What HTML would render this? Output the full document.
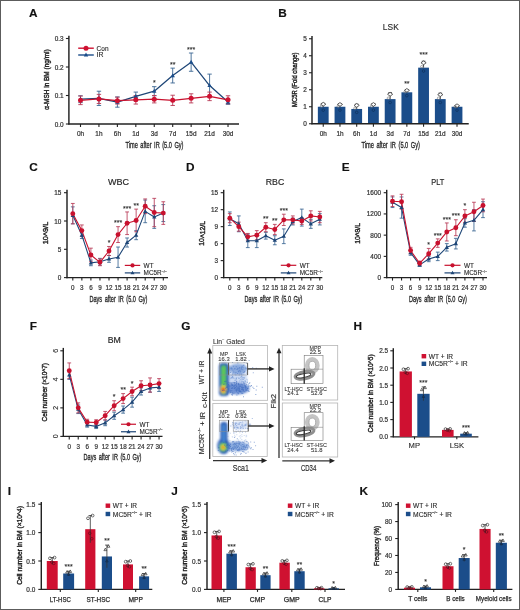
<!DOCTYPE html>
<html><head><meta charset="utf-8"><style>
html,body{margin:0;padding:0;background:#fff;}
.wrap{position:relative;width:520px;height:610px;overflow:hidden;background:#fff;}
svg{position:absolute;left:0;top:0;will-change:transform;}
text{font-family:"Liberation Sans", sans-serif;}
</style></head><body><div class="wrap">
<svg width="520" height="610" viewBox="0 0 520 610">
<defs><filter id="blur1" x="-20%" y="-20%" width="140%" height="140%"><feGaussianBlur stdDeviation="0.9"/></filter><filter id="blur2" x="-20%" y="-20%" width="140%" height="140%"><feGaussianBlur stdDeviation="0.55"/></filter></defs>
<rect x="0" y="0" width="520" height="610" fill="#fff"/>
<text transform="translate(28.90,16.70)" font-size="11.8" text-anchor="start" font-weight="bold" fill="#111" stroke="#111" stroke-width="0.15">A</text>
<line x1="68.90" y1="35.70" x2="68.90" y2="124.60" stroke="#222" stroke-width="1.45"/>
<line x1="65.90" y1="124.00" x2="68.90" y2="124.00" stroke="#222" stroke-width="1.1"/>
<text transform="translate(63.70,126.52) scale(0.92,1)" font-size="7.0" text-anchor="end" font-weight="normal" fill="#333" stroke="#333" stroke-width="0.22">0.0</text>
<line x1="65.90" y1="95.50" x2="68.90" y2="95.50" stroke="#222" stroke-width="1.1"/>
<text transform="translate(63.70,98.02) scale(0.92,1)" font-size="7.0" text-anchor="end" font-weight="normal" fill="#333" stroke="#333" stroke-width="0.22">0.1</text>
<line x1="65.90" y1="67.00" x2="68.90" y2="67.00" stroke="#222" stroke-width="1.1"/>
<text transform="translate(63.70,69.52) scale(0.92,1)" font-size="7.0" text-anchor="end" font-weight="normal" fill="#333" stroke="#333" stroke-width="0.22">0.2</text>
<line x1="65.90" y1="38.50" x2="68.90" y2="38.50" stroke="#222" stroke-width="1.1"/>
<text transform="translate(63.70,41.02) scale(0.92,1)" font-size="7.0" text-anchor="end" font-weight="normal" fill="#333" stroke="#333" stroke-width="0.22">0.3</text>
<line x1="68.30" y1="124.00" x2="239.00" y2="124.00" stroke="#222" stroke-width="1.3"/>
<line x1="80.50" y1="124.00" x2="80.50" y2="127.00" stroke="#222" stroke-width="1.1"/>
<text transform="translate(80.50,136.00) scale(0.92,1)" font-size="7.0" text-anchor="middle" font-weight="normal" fill="#333" stroke="#333" stroke-width="0.22">0h</text>
<line x1="98.94" y1="124.00" x2="98.94" y2="127.00" stroke="#222" stroke-width="1.1"/>
<text transform="translate(98.94,136.00) scale(0.92,1)" font-size="7.0" text-anchor="middle" font-weight="normal" fill="#333" stroke="#333" stroke-width="0.22">1h</text>
<line x1="117.38" y1="124.00" x2="117.38" y2="127.00" stroke="#222" stroke-width="1.1"/>
<text transform="translate(117.38,136.00) scale(0.92,1)" font-size="7.0" text-anchor="middle" font-weight="normal" fill="#333" stroke="#333" stroke-width="0.22">6h</text>
<line x1="135.82" y1="124.00" x2="135.82" y2="127.00" stroke="#222" stroke-width="1.1"/>
<text transform="translate(135.82,136.00) scale(0.92,1)" font-size="7.0" text-anchor="middle" font-weight="normal" fill="#333" stroke="#333" stroke-width="0.22">1d</text>
<line x1="154.26" y1="124.00" x2="154.26" y2="127.00" stroke="#222" stroke-width="1.1"/>
<text transform="translate(154.26,136.00) scale(0.92,1)" font-size="7.0" text-anchor="middle" font-weight="normal" fill="#333" stroke="#333" stroke-width="0.22">3d</text>
<line x1="172.70" y1="124.00" x2="172.70" y2="127.00" stroke="#222" stroke-width="1.1"/>
<text transform="translate(172.70,136.00) scale(0.92,1)" font-size="7.0" text-anchor="middle" font-weight="normal" fill="#333" stroke="#333" stroke-width="0.22">7d</text>
<line x1="191.14" y1="124.00" x2="191.14" y2="127.00" stroke="#222" stroke-width="1.1"/>
<text transform="translate(191.14,136.00) scale(0.92,1)" font-size="7.0" text-anchor="middle" font-weight="normal" fill="#333" stroke="#333" stroke-width="0.22">15d</text>
<line x1="209.58" y1="124.00" x2="209.58" y2="127.00" stroke="#222" stroke-width="1.1"/>
<text transform="translate(209.58,136.00) scale(0.92,1)" font-size="7.0" text-anchor="middle" font-weight="normal" fill="#333" stroke="#333" stroke-width="0.22">21d</text>
<line x1="228.02" y1="124.00" x2="228.02" y2="127.00" stroke="#222" stroke-width="1.1"/>
<text transform="translate(228.02,136.00) scale(0.92,1)" font-size="7.0" text-anchor="middle" font-weight="normal" fill="#333" stroke="#333" stroke-width="0.22">30d</text>
<text transform="translate(46.90,79.60) rotate(-90)" font-size="7.6" text-anchor="middle" font-weight="normal" fill="#262626" textLength="60.4" lengthAdjust="spacingAndGlyphs" dominant-baseline="central" stroke="#262626" stroke-width="0.42">α-MSH in BM (ng/ml)</text>
<text transform="translate(154.50,147.90)" font-size="9.5" text-anchor="middle" font-weight="normal" fill="#2a2a2a" textLength="58" lengthAdjust="spacingAndGlyphs" stroke="#2a2a2a" stroke-width="0.35" word-spacing="1.6">Time after IR (5.0 Gy)</text>
<line x1="80.50" y1="95.78" x2="80.50" y2="102.62" stroke="#3a6592" stroke-width="0.9"/>
<line x1="78.30" y1="95.78" x2="82.70" y2="95.78" stroke="#3a6592" stroke-width="0.9"/>
<line x1="78.30" y1="102.62" x2="82.70" y2="102.62" stroke="#3a6592" stroke-width="0.9"/>
<line x1="98.94" y1="91.22" x2="98.94" y2="105.47" stroke="#3a6592" stroke-width="0.9"/>
<line x1="96.74" y1="91.22" x2="101.14" y2="91.22" stroke="#3a6592" stroke-width="0.9"/>
<line x1="96.74" y1="105.47" x2="101.14" y2="105.47" stroke="#3a6592" stroke-width="0.9"/>
<line x1="117.38" y1="96.92" x2="117.38" y2="107.19" stroke="#3a6592" stroke-width="0.9"/>
<line x1="115.18" y1="96.92" x2="119.58" y2="96.92" stroke="#3a6592" stroke-width="0.9"/>
<line x1="115.18" y1="107.19" x2="119.58" y2="107.19" stroke="#3a6592" stroke-width="0.9"/>
<line x1="135.82" y1="92.08" x2="135.82" y2="100.63" stroke="#3a6592" stroke-width="0.9"/>
<line x1="133.62" y1="92.08" x2="138.02" y2="92.08" stroke="#3a6592" stroke-width="0.9"/>
<line x1="133.62" y1="100.63" x2="138.02" y2="100.63" stroke="#3a6592" stroke-width="0.9"/>
<line x1="154.26" y1="86.66" x2="154.26" y2="95.78" stroke="#3a6592" stroke-width="0.9"/>
<line x1="152.06" y1="86.66" x2="156.46" y2="86.66" stroke="#3a6592" stroke-width="0.9"/>
<line x1="152.06" y1="95.78" x2="156.46" y2="95.78" stroke="#3a6592" stroke-width="0.9"/>
<line x1="172.70" y1="68.14" x2="172.70" y2="82.96" stroke="#3a6592" stroke-width="0.9"/>
<line x1="170.50" y1="68.14" x2="174.90" y2="68.14" stroke="#3a6592" stroke-width="0.9"/>
<line x1="170.50" y1="82.96" x2="174.90" y2="82.96" stroke="#3a6592" stroke-width="0.9"/>
<line x1="191.14" y1="53.03" x2="191.14" y2="71.28" stroke="#3a6592" stroke-width="0.9"/>
<line x1="188.94" y1="53.03" x2="193.34" y2="53.03" stroke="#3a6592" stroke-width="0.9"/>
<line x1="188.94" y1="71.28" x2="193.34" y2="71.28" stroke="#3a6592" stroke-width="0.9"/>
<line x1="209.58" y1="74.12" x2="209.58" y2="96.92" stroke="#3a6592" stroke-width="0.9"/>
<line x1="207.38" y1="74.12" x2="211.78" y2="74.12" stroke="#3a6592" stroke-width="0.9"/>
<line x1="207.38" y1="96.92" x2="211.78" y2="96.92" stroke="#3a6592" stroke-width="0.9"/>
<line x1="228.02" y1="99.78" x2="228.02" y2="104.33" stroke="#3a6592" stroke-width="0.9"/>
<line x1="225.82" y1="99.78" x2="230.22" y2="99.78" stroke="#3a6592" stroke-width="0.9"/>
<line x1="225.82" y1="104.33" x2="230.22" y2="104.33" stroke="#3a6592" stroke-width="0.9"/>
<line x1="80.50" y1="96.07" x2="80.50" y2="104.62" stroke="#b83a56" stroke-width="0.9"/>
<line x1="78.30" y1="96.07" x2="82.70" y2="96.07" stroke="#b83a56" stroke-width="0.9"/>
<line x1="78.30" y1="104.62" x2="82.70" y2="104.62" stroke="#b83a56" stroke-width="0.9"/>
<line x1="98.94" y1="94.36" x2="98.94" y2="103.48" stroke="#b83a56" stroke-width="0.9"/>
<line x1="96.74" y1="94.36" x2="101.14" y2="94.36" stroke="#b83a56" stroke-width="0.9"/>
<line x1="96.74" y1="103.48" x2="101.14" y2="103.48" stroke="#b83a56" stroke-width="0.9"/>
<line x1="117.38" y1="97.21" x2="117.38" y2="104.05" stroke="#b83a56" stroke-width="0.9"/>
<line x1="115.18" y1="97.21" x2="119.58" y2="97.21" stroke="#b83a56" stroke-width="0.9"/>
<line x1="115.18" y1="104.05" x2="119.58" y2="104.05" stroke="#b83a56" stroke-width="0.9"/>
<line x1="135.82" y1="95.50" x2="135.82" y2="104.05" stroke="#b83a56" stroke-width="0.9"/>
<line x1="133.62" y1="95.50" x2="138.02" y2="95.50" stroke="#b83a56" stroke-width="0.9"/>
<line x1="133.62" y1="104.05" x2="138.02" y2="104.05" stroke="#b83a56" stroke-width="0.9"/>
<line x1="154.26" y1="95.50" x2="154.26" y2="102.91" stroke="#b83a56" stroke-width="0.9"/>
<line x1="152.06" y1="95.50" x2="156.46" y2="95.50" stroke="#b83a56" stroke-width="0.9"/>
<line x1="152.06" y1="102.91" x2="156.46" y2="102.91" stroke="#b83a56" stroke-width="0.9"/>
<line x1="172.70" y1="95.22" x2="172.70" y2="105.47" stroke="#b83a56" stroke-width="0.9"/>
<line x1="170.50" y1="95.22" x2="174.90" y2="95.22" stroke="#b83a56" stroke-width="0.9"/>
<line x1="170.50" y1="105.47" x2="174.90" y2="105.47" stroke="#b83a56" stroke-width="0.9"/>
<line x1="191.14" y1="93.79" x2="191.14" y2="102.91" stroke="#b83a56" stroke-width="0.9"/>
<line x1="188.94" y1="93.79" x2="193.34" y2="93.79" stroke="#b83a56" stroke-width="0.9"/>
<line x1="188.94" y1="102.91" x2="193.34" y2="102.91" stroke="#b83a56" stroke-width="0.9"/>
<line x1="209.58" y1="92.08" x2="209.58" y2="100.63" stroke="#b83a56" stroke-width="0.9"/>
<line x1="207.38" y1="92.08" x2="211.78" y2="92.08" stroke="#b83a56" stroke-width="0.9"/>
<line x1="207.38" y1="100.63" x2="211.78" y2="100.63" stroke="#b83a56" stroke-width="0.9"/>
<line x1="228.02" y1="95.78" x2="228.02" y2="103.77" stroke="#b83a56" stroke-width="0.9"/>
<line x1="225.82" y1="95.78" x2="230.22" y2="95.78" stroke="#b83a56" stroke-width="0.9"/>
<line x1="225.82" y1="103.77" x2="230.22" y2="103.77" stroke="#b83a56" stroke-width="0.9"/>
<polyline points="80.50,99.20 98.94,98.35 117.38,102.06 135.82,96.36 154.26,91.22 172.70,75.55 191.14,62.16 209.58,85.53 228.02,102.06" fill="none" stroke="#1e4677" stroke-width="1.25" stroke-linejoin="round"/>
<polyline points="80.50,100.34 98.94,98.92 117.38,100.63 135.82,99.78 154.26,99.20 172.70,100.34 191.14,98.35 209.58,96.36 228.02,99.78" fill="none" stroke="#c8112e" stroke-width="1.25" stroke-linejoin="round"/>
<polygon points="80.50,96.83 78.30,100.79 82.70,100.79" fill="#1b4d8a" stroke="none" stroke-width="0.6"/>
<polygon points="98.94,95.97 96.74,99.93 101.14,99.93" fill="#1b4d8a" stroke="none" stroke-width="0.6"/>
<polygon points="117.38,99.68 115.18,103.64 119.58,103.64" fill="#1b4d8a" stroke="none" stroke-width="0.6"/>
<polygon points="135.82,93.98 133.62,97.94 138.02,97.94" fill="#1b4d8a" stroke="none" stroke-width="0.6"/>
<polygon points="154.26,88.85 152.06,92.81 156.46,92.81" fill="#1b4d8a" stroke="none" stroke-width="0.6"/>
<polygon points="172.70,73.17 170.50,77.13 174.90,77.13" fill="#1b4d8a" stroke="none" stroke-width="0.6"/>
<polygon points="191.14,59.78 188.94,63.74 193.34,63.74" fill="#1b4d8a" stroke="none" stroke-width="0.6"/>
<polygon points="209.58,83.15 207.38,87.11 211.78,87.11" fill="#1b4d8a" stroke="none" stroke-width="0.6"/>
<polygon points="228.02,99.68 225.82,103.64 230.22,103.64" fill="#1b4d8a" stroke="none" stroke-width="0.6"/>
<circle cx="80.50" cy="100.34" r="2.5" fill="#cf1131" stroke="none" stroke-width="0.6"/>
<circle cx="98.94" cy="98.92" r="2.5" fill="#cf1131" stroke="none" stroke-width="0.6"/>
<circle cx="117.38" cy="100.63" r="2.5" fill="#cf1131" stroke="none" stroke-width="0.6"/>
<circle cx="135.82" cy="99.78" r="2.5" fill="#cf1131" stroke="none" stroke-width="0.6"/>
<circle cx="154.26" cy="99.20" r="2.5" fill="#cf1131" stroke="none" stroke-width="0.6"/>
<circle cx="172.70" cy="100.34" r="2.5" fill="#cf1131" stroke="none" stroke-width="0.6"/>
<circle cx="191.14" cy="98.35" r="2.5" fill="#cf1131" stroke="none" stroke-width="0.6"/>
<circle cx="209.58" cy="96.36" r="2.5" fill="#cf1131" stroke="none" stroke-width="0.6"/>
<circle cx="228.02" cy="99.78" r="2.5" fill="#cf1131" stroke="none" stroke-width="0.6"/>
<text transform="translate(154.26,85.46)" font-size="7" text-anchor="middle" font-weight="normal" fill="#2a2a2a" stroke="#2a2a2a" stroke-width="0.1">*</text>
<text transform="translate(172.70,66.94)" font-size="7" text-anchor="middle" font-weight="normal" fill="#2a2a2a" stroke="#2a2a2a" stroke-width="0.1">**</text>
<text transform="translate(191.14,51.83)" font-size="7" text-anchor="middle" font-weight="normal" fill="#2a2a2a" stroke="#2a2a2a" stroke-width="0.1">***</text>
<line x1="78.20" y1="48.20" x2="93.80" y2="48.20" stroke="#cf1131" stroke-width="1.4"/>
<circle cx="86.00" cy="48.20" r="2.5" fill="#cf1131" stroke="none" stroke-width="0.6"/>
<text transform="translate(96.60,50.60)" font-size="6.9" text-anchor="start" font-weight="normal" fill="#2a2a2a" textLength="11.9" lengthAdjust="spacingAndGlyphs" stroke="#2a2a2a" stroke-width="0.12">Con</text>
<line x1="78.20" y1="55.00" x2="93.80" y2="55.00" stroke="#1b4d8a" stroke-width="1.4"/>
<polygon points="86.00,52.62 83.80,56.58 88.20,56.58" fill="#1b4d8a" stroke="none" stroke-width="0.6"/>
<text transform="translate(96.60,57.40)" font-size="6.9" text-anchor="start" font-weight="normal" fill="#2a2a2a" stroke="#2a2a2a" stroke-width="0.12">IR</text>
<text transform="translate(278.30,16.70)" font-size="11.8" text-anchor="start" font-weight="bold" fill="#111" stroke="#111" stroke-width="0.15">B</text>
<text transform="translate(390.80,30.40)" font-size="8.8" text-anchor="middle" font-weight="normal" fill="#2a2a2a" textLength="15.9" lengthAdjust="spacingAndGlyphs" stroke="#2a2a2a" stroke-width="0.12">LSK</text>
<line x1="312.00" y1="35.90" x2="312.00" y2="124.35" stroke="#222" stroke-width="1.45"/>
<line x1="309.00" y1="123.75" x2="312.00" y2="123.75" stroke="#222" stroke-width="1.1"/>
<text transform="translate(306.80,126.27) scale(0.92,1)" font-size="7.0" text-anchor="end" font-weight="normal" fill="#333" stroke="#333" stroke-width="0.22">0</text>
<line x1="309.00" y1="106.75" x2="312.00" y2="106.75" stroke="#222" stroke-width="1.1"/>
<text transform="translate(306.80,109.27) scale(0.92,1)" font-size="7.0" text-anchor="end" font-weight="normal" fill="#333" stroke="#333" stroke-width="0.22">1</text>
<line x1="309.00" y1="89.75" x2="312.00" y2="89.75" stroke="#222" stroke-width="1.1"/>
<text transform="translate(306.80,92.27) scale(0.92,1)" font-size="7.0" text-anchor="end" font-weight="normal" fill="#333" stroke="#333" stroke-width="0.22">2</text>
<line x1="309.00" y1="72.75" x2="312.00" y2="72.75" stroke="#222" stroke-width="1.1"/>
<text transform="translate(306.80,75.27) scale(0.92,1)" font-size="7.0" text-anchor="end" font-weight="normal" fill="#333" stroke="#333" stroke-width="0.22">3</text>
<line x1="309.00" y1="55.75" x2="312.00" y2="55.75" stroke="#222" stroke-width="1.1"/>
<text transform="translate(306.80,58.27) scale(0.92,1)" font-size="7.0" text-anchor="end" font-weight="normal" fill="#333" stroke="#333" stroke-width="0.22">4</text>
<line x1="309.00" y1="38.75" x2="312.00" y2="38.75" stroke="#222" stroke-width="1.1"/>
<text transform="translate(306.80,41.27) scale(0.92,1)" font-size="7.0" text-anchor="end" font-weight="normal" fill="#333" stroke="#333" stroke-width="0.22">5</text>
<rect x="317.85" y="106.75" width="10.80" height="17.00" fill="#1b4d8a" stroke="none" stroke-width="0.6"/>
<line x1="323.25" y1="106.75" x2="323.25" y2="103.35" stroke="#333" stroke-width="0.9"/>
<line x1="321.45" y1="103.35" x2="325.05" y2="103.35" stroke="#333" stroke-width="0.9"/>
<polygon points="320.65,104.20 323.25,102.30 325.85,104.20 323.25,106.10" fill="#fff" stroke="#3a3a3a" stroke-width="0.8"/>
<circle cx="321.45" cy="106.24" r="1.2" fill="none" stroke="#777" stroke-width="0.6"/>
<circle cx="323.25" cy="110.15" r="1.3" fill="none" stroke="#0d2d55" stroke-width="0.6"/>
<rect x="334.57" y="106.75" width="10.80" height="17.00" fill="#1b4d8a" stroke="none" stroke-width="0.6"/>
<line x1="339.97" y1="106.75" x2="339.97" y2="103.69" stroke="#333" stroke-width="0.9"/>
<line x1="338.17" y1="103.69" x2="341.77" y2="103.69" stroke="#333" stroke-width="0.9"/>
<polygon points="337.37,104.45 339.97,102.55 342.57,104.45 339.97,106.36" fill="#fff" stroke="#3a3a3a" stroke-width="0.8"/>
<circle cx="338.17" cy="106.29" r="1.2" fill="none" stroke="#777" stroke-width="0.6"/>
<circle cx="339.97" cy="110.15" r="1.3" fill="none" stroke="#0d2d55" stroke-width="0.6"/>
<rect x="351.29" y="108.96" width="10.80" height="14.79" fill="#1b4d8a" stroke="none" stroke-width="0.6"/>
<line x1="356.69" y1="108.96" x2="356.69" y2="104.20" stroke="#333" stroke-width="0.9"/>
<line x1="354.89" y1="104.20" x2="358.49" y2="104.20" stroke="#333" stroke-width="0.9"/>
<polygon points="354.09,105.39 356.69,103.49 359.29,105.39 356.69,107.29" fill="#fff" stroke="#3a3a3a" stroke-width="0.8"/>
<circle cx="354.89" cy="108.25" r="1.2" fill="none" stroke="#777" stroke-width="0.6"/>
<circle cx="356.69" cy="112.36" r="1.3" fill="none" stroke="#0d2d55" stroke-width="0.6"/>
<rect x="368.01" y="106.75" width="10.80" height="17.00" fill="#1b4d8a" stroke="none" stroke-width="0.6"/>
<line x1="373.41" y1="106.75" x2="373.41" y2="103.69" stroke="#333" stroke-width="0.9"/>
<line x1="371.61" y1="103.69" x2="375.21" y2="103.69" stroke="#333" stroke-width="0.9"/>
<polygon points="370.81,104.45 373.41,102.55 376.01,104.45 373.41,106.36" fill="#fff" stroke="#3a3a3a" stroke-width="0.8"/>
<circle cx="371.61" cy="106.29" r="1.2" fill="none" stroke="#777" stroke-width="0.6"/>
<circle cx="373.41" cy="110.15" r="1.3" fill="none" stroke="#0d2d55" stroke-width="0.6"/>
<rect x="384.73" y="99.10" width="10.80" height="24.65" fill="#1b4d8a" stroke="none" stroke-width="0.6"/>
<line x1="390.13" y1="99.10" x2="390.13" y2="92.64" stroke="#333" stroke-width="0.9"/>
<line x1="388.33" y1="92.64" x2="391.93" y2="92.64" stroke="#333" stroke-width="0.9"/>
<polygon points="387.53,94.25 390.13,92.35 392.73,94.25 390.13,96.16" fill="#fff" stroke="#3a3a3a" stroke-width="0.8"/>
<circle cx="388.33" cy="98.13" r="1.2" fill="none" stroke="#777" stroke-width="0.6"/>
<circle cx="390.13" cy="102.50" r="1.3" fill="none" stroke="#0d2d55" stroke-width="0.6"/>
<rect x="401.45" y="92.30" width="10.80" height="31.45" fill="#1b4d8a" stroke="none" stroke-width="0.6"/>
<line x1="406.85" y1="92.30" x2="406.85" y2="89.75" stroke="#333" stroke-width="0.9"/>
<line x1="405.05" y1="89.75" x2="408.65" y2="89.75" stroke="#333" stroke-width="0.9"/>
<polygon points="404.25,90.39 406.85,88.49 409.45,90.39 406.85,92.29" fill="#fff" stroke="#3a3a3a" stroke-width="0.8"/>
<circle cx="405.05" cy="91.92" r="1.2" fill="none" stroke="#777" stroke-width="0.6"/>
<circle cx="406.85" cy="95.70" r="1.3" fill="none" stroke="#0d2d55" stroke-width="0.6"/>
<rect x="418.17" y="67.65" width="10.80" height="56.10" fill="#1b4d8a" stroke="none" stroke-width="0.6"/>
<line x1="423.57" y1="67.65" x2="423.57" y2="61.19" stroke="#333" stroke-width="0.9"/>
<line x1="421.77" y1="61.19" x2="425.37" y2="61.19" stroke="#333" stroke-width="0.9"/>
<polygon points="420.97,62.80 423.57,60.91 426.17,62.80 423.57,64.70" fill="#fff" stroke="#3a3a3a" stroke-width="0.8"/>
<circle cx="421.77" cy="66.68" r="1.2" fill="none" stroke="#777" stroke-width="0.6"/>
<circle cx="423.57" cy="71.05" r="1.3" fill="none" stroke="#0d2d55" stroke-width="0.6"/>
<rect x="434.89" y="99.10" width="10.80" height="24.65" fill="#1b4d8a" stroke="none" stroke-width="0.6"/>
<line x1="440.29" y1="99.10" x2="440.29" y2="93.15" stroke="#333" stroke-width="0.9"/>
<line x1="438.49" y1="93.15" x2="442.09" y2="93.15" stroke="#333" stroke-width="0.9"/>
<polygon points="437.69,94.64 440.29,92.74 442.89,94.64 440.29,96.54" fill="#fff" stroke="#3a3a3a" stroke-width="0.8"/>
<circle cx="438.49" cy="98.21" r="1.2" fill="none" stroke="#777" stroke-width="0.6"/>
<circle cx="440.29" cy="102.50" r="1.3" fill="none" stroke="#0d2d55" stroke-width="0.6"/>
<rect x="451.61" y="106.75" width="10.80" height="17.00" fill="#1b4d8a" stroke="none" stroke-width="0.6"/>
<line x1="457.01" y1="106.75" x2="457.01" y2="105.39" stroke="#333" stroke-width="0.9"/>
<line x1="455.21" y1="105.39" x2="458.81" y2="105.39" stroke="#333" stroke-width="0.9"/>
<polygon points="454.41,105.73 457.01,103.83 459.61,105.73 457.01,107.63" fill="#fff" stroke="#3a3a3a" stroke-width="0.8"/>
<circle cx="455.21" cy="106.55" r="1.2" fill="none" stroke="#777" stroke-width="0.6"/>
<circle cx="457.01" cy="110.15" r="1.3" fill="none" stroke="#0d2d55" stroke-width="0.6"/>
<line x1="311.40" y1="123.75" x2="468.75" y2="123.75" stroke="#222" stroke-width="1.3"/>
<line x1="323.25" y1="123.75" x2="323.25" y2="126.75" stroke="#222" stroke-width="1.1"/>
<text transform="translate(323.25,135.80) scale(0.92,1)" font-size="7.0" text-anchor="middle" font-weight="normal" fill="#333" stroke="#333" stroke-width="0.22">0h</text>
<line x1="339.97" y1="123.75" x2="339.97" y2="126.75" stroke="#222" stroke-width="1.1"/>
<text transform="translate(339.97,135.80) scale(0.92,1)" font-size="7.0" text-anchor="middle" font-weight="normal" fill="#333" stroke="#333" stroke-width="0.22">1h</text>
<line x1="356.69" y1="123.75" x2="356.69" y2="126.75" stroke="#222" stroke-width="1.1"/>
<text transform="translate(356.69,135.80) scale(0.92,1)" font-size="7.0" text-anchor="middle" font-weight="normal" fill="#333" stroke="#333" stroke-width="0.22">6h</text>
<line x1="373.41" y1="123.75" x2="373.41" y2="126.75" stroke="#222" stroke-width="1.1"/>
<text transform="translate(373.41,135.80) scale(0.92,1)" font-size="7.0" text-anchor="middle" font-weight="normal" fill="#333" stroke="#333" stroke-width="0.22">1d</text>
<line x1="390.13" y1="123.75" x2="390.13" y2="126.75" stroke="#222" stroke-width="1.1"/>
<text transform="translate(390.13,135.80) scale(0.92,1)" font-size="7.0" text-anchor="middle" font-weight="normal" fill="#333" stroke="#333" stroke-width="0.22">3d</text>
<line x1="406.85" y1="123.75" x2="406.85" y2="126.75" stroke="#222" stroke-width="1.1"/>
<text transform="translate(406.85,135.80) scale(0.92,1)" font-size="7.0" text-anchor="middle" font-weight="normal" fill="#333" stroke="#333" stroke-width="0.22">7d</text>
<line x1="423.57" y1="123.75" x2="423.57" y2="126.75" stroke="#222" stroke-width="1.1"/>
<text transform="translate(423.57,135.80) scale(0.92,1)" font-size="7.0" text-anchor="middle" font-weight="normal" fill="#333" stroke="#333" stroke-width="0.22">15d</text>
<line x1="440.29" y1="123.75" x2="440.29" y2="126.75" stroke="#222" stroke-width="1.1"/>
<text transform="translate(440.29,135.80) scale(0.92,1)" font-size="7.0" text-anchor="middle" font-weight="normal" fill="#333" stroke="#333" stroke-width="0.22">21d</text>
<line x1="457.01" y1="123.75" x2="457.01" y2="126.75" stroke="#222" stroke-width="1.1"/>
<text transform="translate(457.01,135.80) scale(0.92,1)" font-size="7.0" text-anchor="middle" font-weight="normal" fill="#333" stroke="#333" stroke-width="0.22">30d</text>
<text transform="translate(406.85,85.75)" font-size="7" text-anchor="middle" font-weight="normal" fill="#2a2a2a" stroke="#2a2a2a" stroke-width="0.1">**</text>
<text transform="translate(423.57,57.19)" font-size="7" text-anchor="middle" font-weight="normal" fill="#2a2a2a" stroke="#2a2a2a" stroke-width="0.1">***</text>
<text transform="translate(294.40,79.70) rotate(-90)" font-size="7.6" text-anchor="middle" font-weight="normal" fill="#262626" textLength="54.4" lengthAdjust="spacingAndGlyphs" dominant-baseline="central" stroke="#262626" stroke-width="0.42">MC5R (Fold change)</text>
<text transform="translate(390.70,147.80)" font-size="9.5" text-anchor="middle" font-weight="normal" fill="#2a2a2a" textLength="58.5" lengthAdjust="spacingAndGlyphs" stroke="#2a2a2a" stroke-width="0.35" word-spacing="1.6">Time after IR (5.0 Gy)</text>
<text transform="translate(29.20,171.00)" font-size="11.8" text-anchor="start" font-weight="bold" fill="#111" stroke="#111" stroke-width="0.15">C</text>
<line x1="67.00" y1="189.80" x2="67.00" y2="278.20" stroke="#222" stroke-width="1.45"/>
<line x1="64.00" y1="277.60" x2="67.00" y2="277.60" stroke="#222" stroke-width="1.1"/>
<text transform="translate(61.40,280.12) scale(0.92,1)" font-size="7.0" text-anchor="end" font-weight="normal" fill="#333" stroke="#333" stroke-width="0.22">0</text>
<line x1="64.00" y1="249.30" x2="67.00" y2="249.30" stroke="#222" stroke-width="1.1"/>
<text transform="translate(61.40,251.82) scale(0.92,1)" font-size="7.0" text-anchor="end" font-weight="normal" fill="#333" stroke="#333" stroke-width="0.22">5</text>
<line x1="64.00" y1="221.00" x2="67.00" y2="221.00" stroke="#222" stroke-width="1.1"/>
<text transform="translate(61.40,223.52) scale(0.92,1)" font-size="7.0" text-anchor="end" font-weight="normal" fill="#333" stroke="#333" stroke-width="0.22">10</text>
<line x1="64.00" y1="192.70" x2="67.00" y2="192.70" stroke="#222" stroke-width="1.1"/>
<text transform="translate(61.40,195.22) scale(0.92,1)" font-size="7.0" text-anchor="end" font-weight="normal" fill="#333" stroke="#333" stroke-width="0.22">15</text>
<line x1="66.40" y1="277.60" x2="168.00" y2="277.60" stroke="#222" stroke-width="1.3"/>
<line x1="72.80" y1="277.60" x2="72.80" y2="280.60" stroke="#222" stroke-width="1.1"/>
<text transform="translate(72.80,289.80) scale(0.9,1)" font-size="7.0" text-anchor="middle" font-weight="normal" fill="#333" stroke="#333" stroke-width="0.22">0</text>
<line x1="81.85" y1="277.60" x2="81.85" y2="280.60" stroke="#222" stroke-width="1.1"/>
<text transform="translate(81.85,289.80) scale(0.9,1)" font-size="7.0" text-anchor="middle" font-weight="normal" fill="#333" stroke="#333" stroke-width="0.22">3</text>
<line x1="90.90" y1="277.60" x2="90.90" y2="280.60" stroke="#222" stroke-width="1.1"/>
<text transform="translate(90.90,289.80) scale(0.9,1)" font-size="7.0" text-anchor="middle" font-weight="normal" fill="#333" stroke="#333" stroke-width="0.22">6</text>
<line x1="99.95" y1="277.60" x2="99.95" y2="280.60" stroke="#222" stroke-width="1.1"/>
<text transform="translate(99.95,289.80) scale(0.9,1)" font-size="7.0" text-anchor="middle" font-weight="normal" fill="#333" stroke="#333" stroke-width="0.22">9</text>
<line x1="109.00" y1="277.60" x2="109.00" y2="280.60" stroke="#222" stroke-width="1.1"/>
<text transform="translate(109.00,289.80) scale(0.9,1)" font-size="7.0" text-anchor="middle" font-weight="normal" fill="#333" stroke="#333" stroke-width="0.22">12</text>
<line x1="118.05" y1="277.60" x2="118.05" y2="280.60" stroke="#222" stroke-width="1.1"/>
<text transform="translate(118.05,289.80) scale(0.9,1)" font-size="7.0" text-anchor="middle" font-weight="normal" fill="#333" stroke="#333" stroke-width="0.22">15</text>
<line x1="127.10" y1="277.60" x2="127.10" y2="280.60" stroke="#222" stroke-width="1.1"/>
<text transform="translate(127.10,289.80) scale(0.9,1)" font-size="7.0" text-anchor="middle" font-weight="normal" fill="#333" stroke="#333" stroke-width="0.22">18</text>
<line x1="136.15" y1="277.60" x2="136.15" y2="280.60" stroke="#222" stroke-width="1.1"/>
<text transform="translate(136.15,289.80) scale(0.9,1)" font-size="7.0" text-anchor="middle" font-weight="normal" fill="#333" stroke="#333" stroke-width="0.22">21</text>
<line x1="145.20" y1="277.60" x2="145.20" y2="280.60" stroke="#222" stroke-width="1.1"/>
<text transform="translate(145.20,289.80) scale(0.9,1)" font-size="7.0" text-anchor="middle" font-weight="normal" fill="#333" stroke="#333" stroke-width="0.22">24</text>
<line x1="154.25" y1="277.60" x2="154.25" y2="280.60" stroke="#222" stroke-width="1.1"/>
<text transform="translate(154.25,289.80) scale(0.9,1)" font-size="7.0" text-anchor="middle" font-weight="normal" fill="#333" stroke="#333" stroke-width="0.22">27</text>
<line x1="163.30" y1="277.60" x2="163.30" y2="280.60" stroke="#222" stroke-width="1.1"/>
<text transform="translate(163.30,289.80) scale(0.9,1)" font-size="7.0" text-anchor="middle" font-weight="normal" fill="#333" stroke="#333" stroke-width="0.22">30</text>
<line x1="72.80" y1="206.85" x2="72.80" y2="223.83" stroke="#3a6592" stroke-width="0.85"/>
<line x1="70.90" y1="206.85" x2="74.70" y2="206.85" stroke="#3a6592" stroke-width="0.85"/>
<line x1="70.90" y1="223.83" x2="74.70" y2="223.83" stroke="#3a6592" stroke-width="0.85"/>
<line x1="81.85" y1="231.75" x2="81.85" y2="238.55" stroke="#3a6592" stroke-width="0.85"/>
<line x1="79.95" y1="231.75" x2="83.75" y2="231.75" stroke="#3a6592" stroke-width="0.85"/>
<line x1="79.95" y1="238.55" x2="83.75" y2="238.55" stroke="#3a6592" stroke-width="0.85"/>
<line x1="90.90" y1="260.05" x2="90.90" y2="265.71" stroke="#3a6592" stroke-width="0.85"/>
<line x1="89.00" y1="260.05" x2="92.80" y2="260.05" stroke="#3a6592" stroke-width="0.85"/>
<line x1="89.00" y1="265.71" x2="92.80" y2="265.71" stroke="#3a6592" stroke-width="0.85"/>
<line x1="99.95" y1="258.36" x2="99.95" y2="265.15" stroke="#3a6592" stroke-width="0.85"/>
<line x1="98.05" y1="258.36" x2="101.85" y2="258.36" stroke="#3a6592" stroke-width="0.85"/>
<line x1="98.05" y1="265.15" x2="101.85" y2="265.15" stroke="#3a6592" stroke-width="0.85"/>
<line x1="109.00" y1="255.53" x2="109.00" y2="262.32" stroke="#3a6592" stroke-width="0.85"/>
<line x1="107.10" y1="255.53" x2="110.90" y2="255.53" stroke="#3a6592" stroke-width="0.85"/>
<line x1="107.10" y1="262.32" x2="110.90" y2="262.32" stroke="#3a6592" stroke-width="0.85"/>
<line x1="118.05" y1="247.04" x2="118.05" y2="267.41" stroke="#3a6592" stroke-width="0.85"/>
<line x1="116.15" y1="247.04" x2="119.95" y2="247.04" stroke="#3a6592" stroke-width="0.85"/>
<line x1="116.15" y1="267.41" x2="119.95" y2="267.41" stroke="#3a6592" stroke-width="0.85"/>
<line x1="127.10" y1="237.98" x2="127.10" y2="247.04" stroke="#3a6592" stroke-width="0.85"/>
<line x1="125.20" y1="237.98" x2="129.00" y2="237.98" stroke="#3a6592" stroke-width="0.85"/>
<line x1="125.20" y1="247.04" x2="129.00" y2="247.04" stroke="#3a6592" stroke-width="0.85"/>
<line x1="136.15" y1="230.62" x2="136.15" y2="239.68" stroke="#3a6592" stroke-width="0.85"/>
<line x1="134.25" y1="230.62" x2="138.05" y2="230.62" stroke="#3a6592" stroke-width="0.85"/>
<line x1="134.25" y1="239.68" x2="138.05" y2="239.68" stroke="#3a6592" stroke-width="0.85"/>
<line x1="145.20" y1="200.06" x2="145.20" y2="222.70" stroke="#3a6592" stroke-width="0.85"/>
<line x1="143.30" y1="200.06" x2="147.10" y2="200.06" stroke="#3a6592" stroke-width="0.85"/>
<line x1="143.30" y1="222.70" x2="147.10" y2="222.70" stroke="#3a6592" stroke-width="0.85"/>
<line x1="154.25" y1="205.72" x2="154.25" y2="228.36" stroke="#3a6592" stroke-width="0.85"/>
<line x1="152.35" y1="205.72" x2="156.15" y2="205.72" stroke="#3a6592" stroke-width="0.85"/>
<line x1="152.35" y1="228.36" x2="156.15" y2="228.36" stroke="#3a6592" stroke-width="0.85"/>
<line x1="163.30" y1="204.59" x2="163.30" y2="221.57" stroke="#3a6592" stroke-width="0.85"/>
<line x1="161.40" y1="204.59" x2="165.20" y2="204.59" stroke="#3a6592" stroke-width="0.85"/>
<line x1="161.40" y1="221.57" x2="165.20" y2="221.57" stroke="#3a6592" stroke-width="0.85"/>
<line x1="72.80" y1="203.45" x2="72.80" y2="223.83" stroke="#b83a56" stroke-width="0.85"/>
<line x1="70.90" y1="203.45" x2="74.70" y2="203.45" stroke="#b83a56" stroke-width="0.85"/>
<line x1="70.90" y1="223.83" x2="74.70" y2="223.83" stroke="#b83a56" stroke-width="0.85"/>
<line x1="81.85" y1="224.96" x2="81.85" y2="236.28" stroke="#b83a56" stroke-width="0.85"/>
<line x1="79.95" y1="224.96" x2="83.75" y2="224.96" stroke="#b83a56" stroke-width="0.85"/>
<line x1="79.95" y1="236.28" x2="83.75" y2="236.28" stroke="#b83a56" stroke-width="0.85"/>
<line x1="90.90" y1="248.17" x2="90.90" y2="261.75" stroke="#b83a56" stroke-width="0.85"/>
<line x1="89.00" y1="248.17" x2="92.80" y2="248.17" stroke="#b83a56" stroke-width="0.85"/>
<line x1="89.00" y1="261.75" x2="92.80" y2="261.75" stroke="#b83a56" stroke-width="0.85"/>
<line x1="99.95" y1="258.92" x2="99.95" y2="265.71" stroke="#b83a56" stroke-width="0.85"/>
<line x1="98.05" y1="258.92" x2="101.85" y2="258.92" stroke="#b83a56" stroke-width="0.85"/>
<line x1="98.05" y1="265.71" x2="101.85" y2="265.71" stroke="#b83a56" stroke-width="0.85"/>
<line x1="109.00" y1="246.47" x2="109.00" y2="255.53" stroke="#b83a56" stroke-width="0.85"/>
<line x1="107.10" y1="246.47" x2="110.90" y2="246.47" stroke="#b83a56" stroke-width="0.85"/>
<line x1="107.10" y1="255.53" x2="110.90" y2="255.53" stroke="#b83a56" stroke-width="0.85"/>
<line x1="118.05" y1="226.66" x2="118.05" y2="242.51" stroke="#b83a56" stroke-width="0.85"/>
<line x1="116.15" y1="226.66" x2="119.95" y2="226.66" stroke="#b83a56" stroke-width="0.85"/>
<line x1="116.15" y1="242.51" x2="119.95" y2="242.51" stroke="#b83a56" stroke-width="0.85"/>
<line x1="127.10" y1="211.94" x2="127.10" y2="234.58" stroke="#b83a56" stroke-width="0.85"/>
<line x1="125.20" y1="211.94" x2="129.00" y2="211.94" stroke="#b83a56" stroke-width="0.85"/>
<line x1="125.20" y1="234.58" x2="129.00" y2="234.58" stroke="#b83a56" stroke-width="0.85"/>
<line x1="136.15" y1="209.11" x2="136.15" y2="231.75" stroke="#b83a56" stroke-width="0.85"/>
<line x1="134.25" y1="209.11" x2="138.05" y2="209.11" stroke="#b83a56" stroke-width="0.85"/>
<line x1="134.25" y1="231.75" x2="138.05" y2="231.75" stroke="#b83a56" stroke-width="0.85"/>
<line x1="145.20" y1="198.93" x2="145.20" y2="213.64" stroke="#b83a56" stroke-width="0.85"/>
<line x1="143.30" y1="198.93" x2="147.10" y2="198.93" stroke="#b83a56" stroke-width="0.85"/>
<line x1="143.30" y1="213.64" x2="147.10" y2="213.64" stroke="#b83a56" stroke-width="0.85"/>
<line x1="154.25" y1="198.36" x2="154.25" y2="226.66" stroke="#b83a56" stroke-width="0.85"/>
<line x1="152.35" y1="198.36" x2="156.15" y2="198.36" stroke="#b83a56" stroke-width="0.85"/>
<line x1="152.35" y1="226.66" x2="156.15" y2="226.66" stroke="#b83a56" stroke-width="0.85"/>
<line x1="163.30" y1="201.76" x2="163.30" y2="224.40" stroke="#b83a56" stroke-width="0.85"/>
<line x1="161.40" y1="201.76" x2="165.20" y2="201.76" stroke="#b83a56" stroke-width="0.85"/>
<line x1="161.40" y1="224.40" x2="165.20" y2="224.40" stroke="#b83a56" stroke-width="0.85"/>
<polyline points="72.80,215.34 81.85,235.15 90.90,262.88 99.95,261.75 109.00,258.92 118.05,257.22 127.10,242.51 136.15,235.15 145.20,211.38 154.25,217.04 163.30,213.08" fill="none" stroke="#1e4677" stroke-width="1.1" stroke-linejoin="round"/>
<polyline points="72.80,213.64 81.85,230.62 90.90,254.96 99.95,262.32 109.00,251.00 118.05,234.58 127.10,223.26 136.15,220.43 145.20,206.28 154.25,212.51 163.30,213.08" fill="none" stroke="#c8112e" stroke-width="1.1" stroke-linejoin="round"/>
<polygon points="72.80,213.02 70.65,216.89 74.95,216.89" fill="#1e4677" stroke="none" stroke-width="0.6"/>
<polygon points="81.85,232.83 79.70,236.70 84.00,236.70" fill="#1e4677" stroke="none" stroke-width="0.6"/>
<polygon points="90.90,260.56 88.75,264.43 93.05,264.43" fill="#1e4677" stroke="none" stroke-width="0.6"/>
<polygon points="99.95,259.43 97.80,263.30 102.10,263.30" fill="#1e4677" stroke="none" stroke-width="0.6"/>
<polygon points="109.00,256.60 106.85,260.47 111.15,260.47" fill="#1e4677" stroke="none" stroke-width="0.6"/>
<polygon points="118.05,254.90 115.90,258.77 120.20,258.77" fill="#1e4677" stroke="none" stroke-width="0.6"/>
<polygon points="127.10,240.19 124.95,244.06 129.25,244.06" fill="#1e4677" stroke="none" stroke-width="0.6"/>
<polygon points="136.15,232.83 134.00,236.70 138.30,236.70" fill="#1e4677" stroke="none" stroke-width="0.6"/>
<polygon points="145.20,209.06 143.05,212.93 147.35,212.93" fill="#1e4677" stroke="none" stroke-width="0.6"/>
<polygon points="154.25,214.72 152.10,218.59 156.40,218.59" fill="#1e4677" stroke="none" stroke-width="0.6"/>
<polygon points="163.30,210.75 161.15,214.62 165.45,214.62" fill="#1e4677" stroke="none" stroke-width="0.6"/>
<circle cx="72.80" cy="213.64" r="2.45" fill="#c8112e" stroke="none" stroke-width="0.6"/>
<circle cx="81.85" cy="230.62" r="2.45" fill="#c8112e" stroke="none" stroke-width="0.6"/>
<circle cx="90.90" cy="254.96" r="2.45" fill="#c8112e" stroke="none" stroke-width="0.6"/>
<circle cx="99.95" cy="262.32" r="2.45" fill="#c8112e" stroke="none" stroke-width="0.6"/>
<circle cx="109.00" cy="251.00" r="2.45" fill="#c8112e" stroke="none" stroke-width="0.6"/>
<circle cx="118.05" cy="234.58" r="2.45" fill="#c8112e" stroke="none" stroke-width="0.6"/>
<circle cx="127.10" cy="223.26" r="2.45" fill="#c8112e" stroke="none" stroke-width="0.6"/>
<circle cx="136.15" cy="220.43" r="2.45" fill="#c8112e" stroke="none" stroke-width="0.6"/>
<circle cx="145.20" cy="206.28" r="2.45" fill="#c8112e" stroke="none" stroke-width="0.6"/>
<circle cx="154.25" cy="212.51" r="2.45" fill="#c8112e" stroke="none" stroke-width="0.6"/>
<circle cx="163.30" cy="213.08" r="2.45" fill="#c8112e" stroke="none" stroke-width="0.6"/>
<text transform="translate(109.00,245.17)" font-size="7" text-anchor="middle" font-weight="normal" fill="#2a2a2a" stroke="#2a2a2a" stroke-width="0.1">*</text>
<text transform="translate(118.05,225.36)" font-size="7" text-anchor="middle" font-weight="normal" fill="#2a2a2a" stroke="#2a2a2a" stroke-width="0.1">***</text>
<text transform="translate(127.10,210.64)" font-size="7" text-anchor="middle" font-weight="normal" fill="#2a2a2a" stroke="#2a2a2a" stroke-width="0.1">***</text>
<text transform="translate(136.15,207.81)" font-size="7" text-anchor="middle" font-weight="normal" fill="#2a2a2a" stroke="#2a2a2a" stroke-width="0.1">**</text>
<line x1="124.80" y1="265.40" x2="140.20" y2="265.40" stroke="#c8112e" stroke-width="1.2"/>
<circle cx="132.50" cy="265.40" r="2.1" fill="#c8112e" stroke="none" stroke-width="0.6"/>
<text transform="translate(143.60,267.70)" font-size="6.4" text-anchor="start" font-weight="normal" fill="#2a2a2a" stroke="#2a2a2a" stroke-width="0.12">WT</text>
<line x1="124.80" y1="272.90" x2="140.20" y2="272.90" stroke="#1e4677" stroke-width="1.2"/>
<polygon points="132.50,270.74 130.50,274.34 134.50,274.34" fill="#1e4677" stroke="none" stroke-width="0.6"/>
<text transform="translate(143.60,275.20)" font-size="6.4" text-anchor="start" font-weight="normal" fill="#2a2a2a" stroke="#2a2a2a" stroke-width="0.12">MC5R<tspan font-size="3.6" dy="-2.6">−/−</tspan></text>
<text transform="translate(118.50,184.90)" font-size="9.2" text-anchor="middle" font-weight="normal" fill="#2a2a2a" textLength="21.1" lengthAdjust="spacingAndGlyphs" stroke="#2a2a2a" stroke-width="0.2">WBC</text>
<text transform="translate(45.00,233.00) rotate(-90)" font-size="8.0" text-anchor="middle" font-weight="normal" fill="#262626" textLength="22.5" lengthAdjust="spacingAndGlyphs" dominant-baseline="central" stroke="#262626" stroke-width="0.42">10<tspan dy="1.0" font-size="9.5">^</tspan><tspan dy="-1.0">9/L</tspan></text>
<text transform="translate(118.40,301.50)" font-size="9.4" text-anchor="middle" font-weight="normal" fill="#2a2a2a" textLength="57.9" lengthAdjust="spacingAndGlyphs" stroke="#2a2a2a" stroke-width="0.35" word-spacing="1.6">Days after IR (5.0 Gy)</text>
<text transform="translate(186.00,171.00)" font-size="11.8" text-anchor="start" font-weight="bold" fill="#111" stroke="#111" stroke-width="0.15">D</text>
<line x1="223.70" y1="189.80" x2="223.70" y2="278.20" stroke="#222" stroke-width="1.45"/>
<line x1="220.70" y1="277.60" x2="223.70" y2="277.60" stroke="#222" stroke-width="1.1"/>
<text transform="translate(218.10,280.12) scale(0.92,1)" font-size="7.0" text-anchor="end" font-weight="normal" fill="#333" stroke="#333" stroke-width="0.22">0</text>
<line x1="220.70" y1="260.62" x2="223.70" y2="260.62" stroke="#222" stroke-width="1.1"/>
<text transform="translate(218.10,263.14) scale(0.92,1)" font-size="7.0" text-anchor="end" font-weight="normal" fill="#333" stroke="#333" stroke-width="0.22">3</text>
<line x1="220.70" y1="243.64" x2="223.70" y2="243.64" stroke="#222" stroke-width="1.1"/>
<text transform="translate(218.10,246.16) scale(0.92,1)" font-size="7.0" text-anchor="end" font-weight="normal" fill="#333" stroke="#333" stroke-width="0.22">6</text>
<line x1="220.70" y1="226.66" x2="223.70" y2="226.66" stroke="#222" stroke-width="1.1"/>
<text transform="translate(218.10,229.18) scale(0.92,1)" font-size="7.0" text-anchor="end" font-weight="normal" fill="#333" stroke="#333" stroke-width="0.22">9</text>
<line x1="220.70" y1="209.68" x2="223.70" y2="209.68" stroke="#222" stroke-width="1.1"/>
<text transform="translate(218.10,212.20) scale(0.92,1)" font-size="7.0" text-anchor="end" font-weight="normal" fill="#333" stroke="#333" stroke-width="0.22">12</text>
<line x1="220.70" y1="192.70" x2="223.70" y2="192.70" stroke="#222" stroke-width="1.1"/>
<text transform="translate(218.10,195.22) scale(0.92,1)" font-size="7.0" text-anchor="end" font-weight="normal" fill="#333" stroke="#333" stroke-width="0.22">15</text>
<line x1="223.10" y1="277.60" x2="322.30" y2="277.60" stroke="#222" stroke-width="1.3"/>
<line x1="229.80" y1="277.60" x2="229.80" y2="280.60" stroke="#222" stroke-width="1.1"/>
<text transform="translate(229.80,289.80) scale(0.9,1)" font-size="7.0" text-anchor="middle" font-weight="normal" fill="#333" stroke="#333" stroke-width="0.22">0</text>
<line x1="238.80" y1="277.60" x2="238.80" y2="280.60" stroke="#222" stroke-width="1.1"/>
<text transform="translate(238.80,289.80) scale(0.9,1)" font-size="7.0" text-anchor="middle" font-weight="normal" fill="#333" stroke="#333" stroke-width="0.22">3</text>
<line x1="247.80" y1="277.60" x2="247.80" y2="280.60" stroke="#222" stroke-width="1.1"/>
<text transform="translate(247.80,289.80) scale(0.9,1)" font-size="7.0" text-anchor="middle" font-weight="normal" fill="#333" stroke="#333" stroke-width="0.22">6</text>
<line x1="256.80" y1="277.60" x2="256.80" y2="280.60" stroke="#222" stroke-width="1.1"/>
<text transform="translate(256.80,289.80) scale(0.9,1)" font-size="7.0" text-anchor="middle" font-weight="normal" fill="#333" stroke="#333" stroke-width="0.22">9</text>
<line x1="265.80" y1="277.60" x2="265.80" y2="280.60" stroke="#222" stroke-width="1.1"/>
<text transform="translate(265.80,289.80) scale(0.9,1)" font-size="7.0" text-anchor="middle" font-weight="normal" fill="#333" stroke="#333" stroke-width="0.22">12</text>
<line x1="274.80" y1="277.60" x2="274.80" y2="280.60" stroke="#222" stroke-width="1.1"/>
<text transform="translate(274.80,289.80) scale(0.9,1)" font-size="7.0" text-anchor="middle" font-weight="normal" fill="#333" stroke="#333" stroke-width="0.22">15</text>
<line x1="283.80" y1="277.60" x2="283.80" y2="280.60" stroke="#222" stroke-width="1.1"/>
<text transform="translate(283.80,289.80) scale(0.9,1)" font-size="7.0" text-anchor="middle" font-weight="normal" fill="#333" stroke="#333" stroke-width="0.22">18</text>
<line x1="292.80" y1="277.60" x2="292.80" y2="280.60" stroke="#222" stroke-width="1.1"/>
<text transform="translate(292.80,289.80) scale(0.9,1)" font-size="7.0" text-anchor="middle" font-weight="normal" fill="#333" stroke="#333" stroke-width="0.22">21</text>
<line x1="301.80" y1="277.60" x2="301.80" y2="280.60" stroke="#222" stroke-width="1.1"/>
<text transform="translate(301.80,289.80) scale(0.9,1)" font-size="7.0" text-anchor="middle" font-weight="normal" fill="#333" stroke="#333" stroke-width="0.22">24</text>
<line x1="310.80" y1="277.60" x2="310.80" y2="280.60" stroke="#222" stroke-width="1.1"/>
<text transform="translate(310.80,289.80) scale(0.9,1)" font-size="7.0" text-anchor="middle" font-weight="normal" fill="#333" stroke="#333" stroke-width="0.22">27</text>
<line x1="319.80" y1="277.60" x2="319.80" y2="280.60" stroke="#222" stroke-width="1.1"/>
<text transform="translate(319.80,289.80) scale(0.9,1)" font-size="7.0" text-anchor="middle" font-weight="normal" fill="#333" stroke="#333" stroke-width="0.22">30</text>
<line x1="229.80" y1="211.94" x2="229.80" y2="225.53" stroke="#3a6592" stroke-width="0.85"/>
<line x1="227.90" y1="211.94" x2="231.70" y2="211.94" stroke="#3a6592" stroke-width="0.85"/>
<line x1="227.90" y1="225.53" x2="231.70" y2="225.53" stroke="#3a6592" stroke-width="0.85"/>
<line x1="238.80" y1="215.91" x2="238.80" y2="231.75" stroke="#3a6592" stroke-width="0.85"/>
<line x1="236.90" y1="215.91" x2="240.70" y2="215.91" stroke="#3a6592" stroke-width="0.85"/>
<line x1="236.90" y1="231.75" x2="240.70" y2="231.75" stroke="#3a6592" stroke-width="0.85"/>
<line x1="247.80" y1="234.02" x2="247.80" y2="247.60" stroke="#3a6592" stroke-width="0.85"/>
<line x1="245.90" y1="234.02" x2="249.70" y2="234.02" stroke="#3a6592" stroke-width="0.85"/>
<line x1="245.90" y1="247.60" x2="249.70" y2="247.60" stroke="#3a6592" stroke-width="0.85"/>
<line x1="256.80" y1="234.02" x2="256.80" y2="247.60" stroke="#3a6592" stroke-width="0.85"/>
<line x1="254.90" y1="234.02" x2="258.70" y2="234.02" stroke="#3a6592" stroke-width="0.85"/>
<line x1="254.90" y1="247.60" x2="258.70" y2="247.60" stroke="#3a6592" stroke-width="0.85"/>
<line x1="265.80" y1="232.32" x2="265.80" y2="239.11" stroke="#3a6592" stroke-width="0.85"/>
<line x1="263.90" y1="232.32" x2="267.70" y2="232.32" stroke="#3a6592" stroke-width="0.85"/>
<line x1="263.90" y1="239.11" x2="267.70" y2="239.11" stroke="#3a6592" stroke-width="0.85"/>
<line x1="274.80" y1="235.72" x2="274.80" y2="244.77" stroke="#3a6592" stroke-width="0.85"/>
<line x1="272.90" y1="235.72" x2="276.70" y2="235.72" stroke="#3a6592" stroke-width="0.85"/>
<line x1="272.90" y1="244.77" x2="276.70" y2="244.77" stroke="#3a6592" stroke-width="0.85"/>
<line x1="283.80" y1="228.92" x2="283.80" y2="243.64" stroke="#3a6592" stroke-width="0.85"/>
<line x1="281.90" y1="228.92" x2="285.70" y2="228.92" stroke="#3a6592" stroke-width="0.85"/>
<line x1="281.90" y1="243.64" x2="285.70" y2="243.64" stroke="#3a6592" stroke-width="0.85"/>
<line x1="292.80" y1="218.17" x2="292.80" y2="224.96" stroke="#3a6592" stroke-width="0.85"/>
<line x1="290.90" y1="218.17" x2="294.70" y2="218.17" stroke="#3a6592" stroke-width="0.85"/>
<line x1="290.90" y1="224.96" x2="294.70" y2="224.96" stroke="#3a6592" stroke-width="0.85"/>
<line x1="301.80" y1="209.11" x2="301.80" y2="226.09" stroke="#3a6592" stroke-width="0.85"/>
<line x1="299.90" y1="209.11" x2="303.70" y2="209.11" stroke="#3a6592" stroke-width="0.85"/>
<line x1="299.90" y1="226.09" x2="303.70" y2="226.09" stroke="#3a6592" stroke-width="0.85"/>
<line x1="310.80" y1="219.30" x2="310.80" y2="228.36" stroke="#3a6592" stroke-width="0.85"/>
<line x1="308.90" y1="219.30" x2="312.70" y2="219.30" stroke="#3a6592" stroke-width="0.85"/>
<line x1="308.90" y1="228.36" x2="312.70" y2="228.36" stroke="#3a6592" stroke-width="0.85"/>
<line x1="319.80" y1="213.64" x2="319.80" y2="224.96" stroke="#3a6592" stroke-width="0.85"/>
<line x1="317.90" y1="213.64" x2="321.70" y2="213.64" stroke="#3a6592" stroke-width="0.85"/>
<line x1="317.90" y1="224.96" x2="321.70" y2="224.96" stroke="#3a6592" stroke-width="0.85"/>
<line x1="229.80" y1="213.64" x2="229.80" y2="222.70" stroke="#b83a56" stroke-width="0.85"/>
<line x1="227.90" y1="213.64" x2="231.70" y2="213.64" stroke="#b83a56" stroke-width="0.85"/>
<line x1="227.90" y1="222.70" x2="231.70" y2="222.70" stroke="#b83a56" stroke-width="0.85"/>
<line x1="238.80" y1="222.13" x2="238.80" y2="231.19" stroke="#b83a56" stroke-width="0.85"/>
<line x1="236.90" y1="222.13" x2="240.70" y2="222.13" stroke="#b83a56" stroke-width="0.85"/>
<line x1="236.90" y1="231.19" x2="240.70" y2="231.19" stroke="#b83a56" stroke-width="0.85"/>
<line x1="247.80" y1="233.45" x2="247.80" y2="240.24" stroke="#b83a56" stroke-width="0.85"/>
<line x1="245.90" y1="233.45" x2="249.70" y2="233.45" stroke="#b83a56" stroke-width="0.85"/>
<line x1="245.90" y1="240.24" x2="249.70" y2="240.24" stroke="#b83a56" stroke-width="0.85"/>
<line x1="256.80" y1="230.62" x2="256.80" y2="239.68" stroke="#b83a56" stroke-width="0.85"/>
<line x1="254.90" y1="230.62" x2="258.70" y2="230.62" stroke="#b83a56" stroke-width="0.85"/>
<line x1="254.90" y1="239.68" x2="258.70" y2="239.68" stroke="#b83a56" stroke-width="0.85"/>
<line x1="265.80" y1="222.70" x2="265.80" y2="231.75" stroke="#b83a56" stroke-width="0.85"/>
<line x1="263.90" y1="222.70" x2="267.70" y2="222.70" stroke="#b83a56" stroke-width="0.85"/>
<line x1="263.90" y1="231.75" x2="267.70" y2="231.75" stroke="#b83a56" stroke-width="0.85"/>
<line x1="274.80" y1="224.40" x2="274.80" y2="234.58" stroke="#b83a56" stroke-width="0.85"/>
<line x1="272.90" y1="224.40" x2="276.70" y2="224.40" stroke="#b83a56" stroke-width="0.85"/>
<line x1="272.90" y1="234.58" x2="276.70" y2="234.58" stroke="#b83a56" stroke-width="0.85"/>
<line x1="283.80" y1="214.21" x2="283.80" y2="225.53" stroke="#b83a56" stroke-width="0.85"/>
<line x1="281.90" y1="214.21" x2="285.70" y2="214.21" stroke="#b83a56" stroke-width="0.85"/>
<line x1="281.90" y1="225.53" x2="285.70" y2="225.53" stroke="#b83a56" stroke-width="0.85"/>
<line x1="292.80" y1="215.91" x2="292.80" y2="223.83" stroke="#b83a56" stroke-width="0.85"/>
<line x1="290.90" y1="215.91" x2="294.70" y2="215.91" stroke="#b83a56" stroke-width="0.85"/>
<line x1="290.90" y1="223.83" x2="294.70" y2="223.83" stroke="#b83a56" stroke-width="0.85"/>
<line x1="301.80" y1="217.60" x2="301.80" y2="224.40" stroke="#b83a56" stroke-width="0.85"/>
<line x1="299.90" y1="217.60" x2="303.70" y2="217.60" stroke="#b83a56" stroke-width="0.85"/>
<line x1="299.90" y1="224.40" x2="303.70" y2="224.40" stroke="#b83a56" stroke-width="0.85"/>
<line x1="310.80" y1="210.81" x2="310.80" y2="221.00" stroke="#b83a56" stroke-width="0.85"/>
<line x1="308.90" y1="210.81" x2="312.70" y2="210.81" stroke="#b83a56" stroke-width="0.85"/>
<line x1="308.90" y1="221.00" x2="312.70" y2="221.00" stroke="#b83a56" stroke-width="0.85"/>
<line x1="319.80" y1="211.38" x2="319.80" y2="222.70" stroke="#b83a56" stroke-width="0.85"/>
<line x1="317.90" y1="211.38" x2="321.70" y2="211.38" stroke="#b83a56" stroke-width="0.85"/>
<line x1="317.90" y1="222.70" x2="321.70" y2="222.70" stroke="#b83a56" stroke-width="0.85"/>
<polyline points="229.80,218.74 238.80,223.83 247.80,240.81 256.80,240.81 265.80,235.72 274.80,240.24 283.80,236.28 292.80,221.57 301.80,217.60 310.80,223.83 319.80,219.30" fill="none" stroke="#1e4677" stroke-width="1.1" stroke-linejoin="round"/>
<polyline points="229.80,218.17 238.80,226.66 247.80,236.85 256.80,235.15 265.80,227.23 274.80,229.49 283.80,219.87 292.80,219.87 301.80,221.00 310.80,215.91 319.80,217.04" fill="none" stroke="#c8112e" stroke-width="1.1" stroke-linejoin="round"/>
<polygon points="229.80,216.41 227.65,220.28 231.95,220.28" fill="#1e4677" stroke="none" stroke-width="0.6"/>
<polygon points="238.80,221.51 236.65,225.38 240.95,225.38" fill="#1e4677" stroke="none" stroke-width="0.6"/>
<polygon points="247.80,238.49 245.65,242.36 249.95,242.36" fill="#1e4677" stroke="none" stroke-width="0.6"/>
<polygon points="256.80,238.49 254.65,242.36 258.95,242.36" fill="#1e4677" stroke="none" stroke-width="0.6"/>
<polygon points="265.80,233.39 263.65,237.26 267.95,237.26" fill="#1e4677" stroke="none" stroke-width="0.6"/>
<polygon points="274.80,237.92 272.65,241.79 276.95,241.79" fill="#1e4677" stroke="none" stroke-width="0.6"/>
<polygon points="283.80,233.96 281.65,237.83 285.95,237.83" fill="#1e4677" stroke="none" stroke-width="0.6"/>
<polygon points="292.80,219.24 290.65,223.11 294.95,223.11" fill="#1e4677" stroke="none" stroke-width="0.6"/>
<polygon points="301.80,215.28 299.65,219.15 303.95,219.15" fill="#1e4677" stroke="none" stroke-width="0.6"/>
<polygon points="310.80,221.51 308.65,225.38 312.95,225.38" fill="#1e4677" stroke="none" stroke-width="0.6"/>
<polygon points="319.80,216.98 317.65,220.85 321.95,220.85" fill="#1e4677" stroke="none" stroke-width="0.6"/>
<circle cx="229.80" cy="218.17" r="2.45" fill="#c8112e" stroke="none" stroke-width="0.6"/>
<circle cx="238.80" cy="226.66" r="2.45" fill="#c8112e" stroke="none" stroke-width="0.6"/>
<circle cx="247.80" cy="236.85" r="2.45" fill="#c8112e" stroke="none" stroke-width="0.6"/>
<circle cx="256.80" cy="235.15" r="2.45" fill="#c8112e" stroke="none" stroke-width="0.6"/>
<circle cx="265.80" cy="227.23" r="2.45" fill="#c8112e" stroke="none" stroke-width="0.6"/>
<circle cx="274.80" cy="229.49" r="2.45" fill="#c8112e" stroke="none" stroke-width="0.6"/>
<circle cx="283.80" cy="219.87" r="2.45" fill="#c8112e" stroke="none" stroke-width="0.6"/>
<circle cx="292.80" cy="219.87" r="2.45" fill="#c8112e" stroke="none" stroke-width="0.6"/>
<circle cx="301.80" cy="221.00" r="2.45" fill="#c8112e" stroke="none" stroke-width="0.6"/>
<circle cx="310.80" cy="215.91" r="2.45" fill="#c8112e" stroke="none" stroke-width="0.6"/>
<circle cx="319.80" cy="217.04" r="2.45" fill="#c8112e" stroke="none" stroke-width="0.6"/>
<text transform="translate(265.80,221.40)" font-size="7" text-anchor="middle" font-weight="normal" fill="#2a2a2a" stroke="#2a2a2a" stroke-width="0.1">**</text>
<text transform="translate(274.80,223.10)" font-size="7" text-anchor="middle" font-weight="normal" fill="#2a2a2a" stroke="#2a2a2a" stroke-width="0.1">**</text>
<text transform="translate(283.80,212.91)" font-size="7" text-anchor="middle" font-weight="normal" fill="#2a2a2a" stroke="#2a2a2a" stroke-width="0.1">***</text>
<line x1="280.80" y1="265.30" x2="296.30" y2="265.30" stroke="#c8112e" stroke-width="1.2"/>
<circle cx="288.55" cy="265.30" r="2.1" fill="#c8112e" stroke="none" stroke-width="0.6"/>
<text transform="translate(299.70,267.60)" font-size="6.4" text-anchor="start" font-weight="normal" fill="#2a2a2a" stroke="#2a2a2a" stroke-width="0.12">WT</text>
<line x1="280.80" y1="272.90" x2="296.30" y2="272.90" stroke="#1e4677" stroke-width="1.2"/>
<polygon points="288.55,270.74 286.55,274.34 290.55,274.34" fill="#1e4677" stroke="none" stroke-width="0.6"/>
<text transform="translate(299.70,275.20)" font-size="6.4" text-anchor="start" font-weight="normal" fill="#2a2a2a" stroke="#2a2a2a" stroke-width="0.12">MC5R<tspan font-size="3.6" dy="-2.6">−/−</tspan></text>
<text transform="translate(275.00,184.60)" font-size="9.2" text-anchor="middle" font-weight="normal" fill="#2a2a2a" textLength="18.4" lengthAdjust="spacingAndGlyphs" stroke="#2a2a2a" stroke-width="0.2">RBC</text>
<text transform="translate(201.90,233.40) rotate(-90)" font-size="8.0" text-anchor="middle" font-weight="normal" fill="#262626" textLength="24.6" lengthAdjust="spacingAndGlyphs" dominant-baseline="central" stroke="#262626" stroke-width="0.42">10<tspan dy="1.0" font-size="9.5">^</tspan><tspan dy="-1.0">12/L</tspan></text>
<text transform="translate(273.50,301.50)" font-size="9.4" text-anchor="middle" font-weight="normal" fill="#2a2a2a" textLength="57.9" lengthAdjust="spacingAndGlyphs" stroke="#2a2a2a" stroke-width="0.35" word-spacing="1.6">Days after IR (5.0 Gy)</text>
<text transform="translate(341.80,171.00)" font-size="11.8" text-anchor="start" font-weight="bold" fill="#111" stroke="#111" stroke-width="0.15">E</text>
<line x1="386.70" y1="189.80" x2="386.70" y2="278.20" stroke="#222" stroke-width="1.45"/>
<line x1="383.70" y1="277.60" x2="386.70" y2="277.60" stroke="#222" stroke-width="1.1"/>
<text transform="translate(381.10,280.12) scale(0.92,1)" font-size="7.0" text-anchor="end" font-weight="normal" fill="#333" stroke="#333" stroke-width="0.22">0</text>
<line x1="383.70" y1="256.38" x2="386.70" y2="256.38" stroke="#222" stroke-width="1.1"/>
<text transform="translate(381.10,258.89) scale(0.92,1)" font-size="7.0" text-anchor="end" font-weight="normal" fill="#333" stroke="#333" stroke-width="0.22">400</text>
<line x1="383.70" y1="235.15" x2="386.70" y2="235.15" stroke="#222" stroke-width="1.1"/>
<text transform="translate(381.10,237.67) scale(0.92,1)" font-size="7.0" text-anchor="end" font-weight="normal" fill="#333" stroke="#333" stroke-width="0.22">800</text>
<line x1="383.70" y1="213.93" x2="386.70" y2="213.93" stroke="#222" stroke-width="1.1"/>
<text transform="translate(381.10,216.45) scale(0.92,1)" font-size="7.0" text-anchor="end" font-weight="normal" fill="#333" stroke="#333" stroke-width="0.22">1200</text>
<line x1="383.70" y1="192.70" x2="386.70" y2="192.70" stroke="#222" stroke-width="1.1"/>
<text transform="translate(381.10,195.22) scale(0.92,1)" font-size="7.0" text-anchor="end" font-weight="normal" fill="#333" stroke="#333" stroke-width="0.22">1600</text>
<line x1="386.10" y1="277.60" x2="487.00" y2="277.60" stroke="#222" stroke-width="1.3"/>
<line x1="392.50" y1="277.60" x2="392.50" y2="280.60" stroke="#222" stroke-width="1.1"/>
<text transform="translate(392.50,289.80) scale(0.9,1)" font-size="7.0" text-anchor="middle" font-weight="normal" fill="#333" stroke="#333" stroke-width="0.22">0</text>
<line x1="401.55" y1="277.60" x2="401.55" y2="280.60" stroke="#222" stroke-width="1.1"/>
<text transform="translate(401.55,289.80) scale(0.9,1)" font-size="7.0" text-anchor="middle" font-weight="normal" fill="#333" stroke="#333" stroke-width="0.22">3</text>
<line x1="410.60" y1="277.60" x2="410.60" y2="280.60" stroke="#222" stroke-width="1.1"/>
<text transform="translate(410.60,289.80) scale(0.9,1)" font-size="7.0" text-anchor="middle" font-weight="normal" fill="#333" stroke="#333" stroke-width="0.22">6</text>
<line x1="419.65" y1="277.60" x2="419.65" y2="280.60" stroke="#222" stroke-width="1.1"/>
<text transform="translate(419.65,289.80) scale(0.9,1)" font-size="7.0" text-anchor="middle" font-weight="normal" fill="#333" stroke="#333" stroke-width="0.22">9</text>
<line x1="428.70" y1="277.60" x2="428.70" y2="280.60" stroke="#222" stroke-width="1.1"/>
<text transform="translate(428.70,289.80) scale(0.9,1)" font-size="7.0" text-anchor="middle" font-weight="normal" fill="#333" stroke="#333" stroke-width="0.22">12</text>
<line x1="437.75" y1="277.60" x2="437.75" y2="280.60" stroke="#222" stroke-width="1.1"/>
<text transform="translate(437.75,289.80) scale(0.9,1)" font-size="7.0" text-anchor="middle" font-weight="normal" fill="#333" stroke="#333" stroke-width="0.22">15</text>
<line x1="446.80" y1="277.60" x2="446.80" y2="280.60" stroke="#222" stroke-width="1.1"/>
<text transform="translate(446.80,289.80) scale(0.9,1)" font-size="7.0" text-anchor="middle" font-weight="normal" fill="#333" stroke="#333" stroke-width="0.22">18</text>
<line x1="455.85" y1="277.60" x2="455.85" y2="280.60" stroke="#222" stroke-width="1.1"/>
<text transform="translate(455.85,289.80) scale(0.9,1)" font-size="7.0" text-anchor="middle" font-weight="normal" fill="#333" stroke="#333" stroke-width="0.22">21</text>
<line x1="464.90" y1="277.60" x2="464.90" y2="280.60" stroke="#222" stroke-width="1.1"/>
<text transform="translate(464.90,289.80) scale(0.9,1)" font-size="7.0" text-anchor="middle" font-weight="normal" fill="#333" stroke="#333" stroke-width="0.22">24</text>
<line x1="473.95" y1="277.60" x2="473.95" y2="280.60" stroke="#222" stroke-width="1.1"/>
<text transform="translate(473.95,289.80) scale(0.9,1)" font-size="7.0" text-anchor="middle" font-weight="normal" fill="#333" stroke="#333" stroke-width="0.22">27</text>
<line x1="483.00" y1="277.60" x2="483.00" y2="280.60" stroke="#222" stroke-width="1.1"/>
<text transform="translate(483.00,289.80) scale(0.9,1)" font-size="7.0" text-anchor="middle" font-weight="normal" fill="#333" stroke="#333" stroke-width="0.22">30</text>
<line x1="392.50" y1="196.94" x2="392.50" y2="207.56" stroke="#3a6592" stroke-width="0.85"/>
<line x1="390.60" y1="196.94" x2="394.40" y2="196.94" stroke="#3a6592" stroke-width="0.85"/>
<line x1="390.60" y1="207.56" x2="394.40" y2="207.56" stroke="#3a6592" stroke-width="0.85"/>
<line x1="401.55" y1="196.94" x2="401.55" y2="218.17" stroke="#3a6592" stroke-width="0.85"/>
<line x1="399.65" y1="196.94" x2="403.45" y2="196.94" stroke="#3a6592" stroke-width="0.85"/>
<line x1="399.65" y1="218.17" x2="403.45" y2="218.17" stroke="#3a6592" stroke-width="0.85"/>
<line x1="410.60" y1="250.01" x2="410.60" y2="255.31" stroke="#3a6592" stroke-width="0.85"/>
<line x1="408.70" y1="250.01" x2="412.50" y2="250.01" stroke="#3a6592" stroke-width="0.85"/>
<line x1="408.70" y1="255.31" x2="412.50" y2="255.31" stroke="#3a6592" stroke-width="0.85"/>
<line x1="419.65" y1="263.27" x2="419.65" y2="266.46" stroke="#3a6592" stroke-width="0.85"/>
<line x1="417.75" y1="263.27" x2="421.55" y2="263.27" stroke="#3a6592" stroke-width="0.85"/>
<line x1="417.75" y1="266.46" x2="421.55" y2="266.46" stroke="#3a6592" stroke-width="0.85"/>
<line x1="428.70" y1="256.38" x2="428.70" y2="261.68" stroke="#3a6592" stroke-width="0.85"/>
<line x1="426.80" y1="256.38" x2="430.60" y2="256.38" stroke="#3a6592" stroke-width="0.85"/>
<line x1="426.80" y1="261.68" x2="430.60" y2="261.68" stroke="#3a6592" stroke-width="0.85"/>
<line x1="437.75" y1="252.13" x2="437.75" y2="260.62" stroke="#3a6592" stroke-width="0.85"/>
<line x1="435.85" y1="252.13" x2="439.65" y2="252.13" stroke="#3a6592" stroke-width="0.85"/>
<line x1="435.85" y1="260.62" x2="439.65" y2="260.62" stroke="#3a6592" stroke-width="0.85"/>
<line x1="446.80" y1="243.64" x2="446.80" y2="251.07" stroke="#3a6592" stroke-width="0.85"/>
<line x1="444.90" y1="243.64" x2="448.70" y2="243.64" stroke="#3a6592" stroke-width="0.85"/>
<line x1="444.90" y1="251.07" x2="448.70" y2="251.07" stroke="#3a6592" stroke-width="0.85"/>
<line x1="455.85" y1="238.33" x2="455.85" y2="248.95" stroke="#3a6592" stroke-width="0.85"/>
<line x1="453.95" y1="238.33" x2="457.75" y2="238.33" stroke="#3a6592" stroke-width="0.85"/>
<line x1="453.95" y1="248.95" x2="457.75" y2="248.95" stroke="#3a6592" stroke-width="0.85"/>
<line x1="464.90" y1="218.70" x2="464.90" y2="227.19" stroke="#3a6592" stroke-width="0.85"/>
<line x1="463.00" y1="218.70" x2="466.80" y2="218.70" stroke="#3a6592" stroke-width="0.85"/>
<line x1="463.00" y1="227.19" x2="466.80" y2="227.19" stroke="#3a6592" stroke-width="0.85"/>
<line x1="473.95" y1="209.68" x2="473.95" y2="230.91" stroke="#3a6592" stroke-width="0.85"/>
<line x1="472.05" y1="209.68" x2="475.85" y2="209.68" stroke="#3a6592" stroke-width="0.85"/>
<line x1="472.05" y1="230.91" x2="475.85" y2="230.91" stroke="#3a6592" stroke-width="0.85"/>
<line x1="483.00" y1="201.72" x2="483.00" y2="217.64" stroke="#3a6592" stroke-width="0.85"/>
<line x1="481.10" y1="201.72" x2="484.90" y2="201.72" stroke="#3a6592" stroke-width="0.85"/>
<line x1="481.10" y1="217.64" x2="484.90" y2="217.64" stroke="#3a6592" stroke-width="0.85"/>
<line x1="392.50" y1="195.88" x2="392.50" y2="206.50" stroke="#b83a56" stroke-width="0.85"/>
<line x1="390.60" y1="195.88" x2="394.40" y2="195.88" stroke="#b83a56" stroke-width="0.85"/>
<line x1="390.60" y1="206.50" x2="394.40" y2="206.50" stroke="#b83a56" stroke-width="0.85"/>
<line x1="401.55" y1="194.29" x2="401.55" y2="209.15" stroke="#b83a56" stroke-width="0.85"/>
<line x1="399.65" y1="194.29" x2="403.45" y2="194.29" stroke="#b83a56" stroke-width="0.85"/>
<line x1="399.65" y1="209.15" x2="403.45" y2="209.15" stroke="#b83a56" stroke-width="0.85"/>
<line x1="410.60" y1="247.35" x2="410.60" y2="253.72" stroke="#b83a56" stroke-width="0.85"/>
<line x1="408.70" y1="247.35" x2="412.50" y2="247.35" stroke="#b83a56" stroke-width="0.85"/>
<line x1="408.70" y1="253.72" x2="412.50" y2="253.72" stroke="#b83a56" stroke-width="0.85"/>
<line x1="419.65" y1="261.15" x2="419.65" y2="265.40" stroke="#b83a56" stroke-width="0.85"/>
<line x1="417.75" y1="261.15" x2="421.55" y2="261.15" stroke="#b83a56" stroke-width="0.85"/>
<line x1="417.75" y1="265.40" x2="421.55" y2="265.40" stroke="#b83a56" stroke-width="0.85"/>
<line x1="428.70" y1="248.42" x2="428.70" y2="259.03" stroke="#b83a56" stroke-width="0.85"/>
<line x1="426.80" y1="248.42" x2="430.60" y2="248.42" stroke="#b83a56" stroke-width="0.85"/>
<line x1="426.80" y1="259.03" x2="430.60" y2="259.03" stroke="#b83a56" stroke-width="0.85"/>
<line x1="437.75" y1="238.86" x2="437.75" y2="247.35" stroke="#b83a56" stroke-width="0.85"/>
<line x1="435.85" y1="238.86" x2="439.65" y2="238.86" stroke="#b83a56" stroke-width="0.85"/>
<line x1="435.85" y1="247.35" x2="439.65" y2="247.35" stroke="#b83a56" stroke-width="0.85"/>
<line x1="446.80" y1="222.95" x2="446.80" y2="240.99" stroke="#b83a56" stroke-width="0.85"/>
<line x1="444.90" y1="222.95" x2="448.70" y2="222.95" stroke="#b83a56" stroke-width="0.85"/>
<line x1="444.90" y1="240.99" x2="448.70" y2="240.99" stroke="#b83a56" stroke-width="0.85"/>
<line x1="455.85" y1="219.76" x2="455.85" y2="235.68" stroke="#b83a56" stroke-width="0.85"/>
<line x1="453.95" y1="219.76" x2="457.75" y2="219.76" stroke="#b83a56" stroke-width="0.85"/>
<line x1="453.95" y1="235.68" x2="457.75" y2="235.68" stroke="#b83a56" stroke-width="0.85"/>
<line x1="464.90" y1="209.68" x2="464.90" y2="222.41" stroke="#b83a56" stroke-width="0.85"/>
<line x1="463.00" y1="209.68" x2="466.80" y2="209.68" stroke="#b83a56" stroke-width="0.85"/>
<line x1="463.00" y1="222.41" x2="466.80" y2="222.41" stroke="#b83a56" stroke-width="0.85"/>
<line x1="473.95" y1="202.25" x2="473.95" y2="221.35" stroke="#b83a56" stroke-width="0.85"/>
<line x1="472.05" y1="202.25" x2="475.85" y2="202.25" stroke="#b83a56" stroke-width="0.85"/>
<line x1="472.05" y1="221.35" x2="475.85" y2="221.35" stroke="#b83a56" stroke-width="0.85"/>
<line x1="483.00" y1="199.07" x2="483.00" y2="211.80" stroke="#b83a56" stroke-width="0.85"/>
<line x1="481.10" y1="199.07" x2="484.90" y2="199.07" stroke="#b83a56" stroke-width="0.85"/>
<line x1="481.10" y1="211.80" x2="484.90" y2="211.80" stroke="#b83a56" stroke-width="0.85"/>
<polyline points="392.50,202.25 401.55,207.56 410.60,252.66 419.65,264.87 428.70,259.03 437.75,256.38 446.80,247.35 455.85,243.64 464.90,222.95 473.95,220.29 483.00,209.68" fill="none" stroke="#1e4677" stroke-width="1.1" stroke-linejoin="round"/>
<polyline points="392.50,201.19 401.55,201.72 410.60,250.54 419.65,263.27 428.70,253.72 437.75,243.11 446.80,231.97 455.85,227.72 464.90,216.05 473.95,211.80 483.00,205.44" fill="none" stroke="#c8112e" stroke-width="1.1" stroke-linejoin="round"/>
<polygon points="392.50,199.93 390.35,203.80 394.65,203.80" fill="#1e4677" stroke="none" stroke-width="0.6"/>
<polygon points="401.55,205.24 399.40,209.11 403.70,209.11" fill="#1e4677" stroke="none" stroke-width="0.6"/>
<polygon points="410.60,250.34 408.45,254.21 412.75,254.21" fill="#1e4677" stroke="none" stroke-width="0.6"/>
<polygon points="419.65,262.54 417.50,266.41 421.80,266.41" fill="#1e4677" stroke="none" stroke-width="0.6"/>
<polygon points="428.70,256.71 426.55,260.58 430.85,260.58" fill="#1e4677" stroke="none" stroke-width="0.6"/>
<polygon points="437.75,254.05 435.60,257.92 439.90,257.92" fill="#1e4677" stroke="none" stroke-width="0.6"/>
<polygon points="446.80,245.03 444.65,248.90 448.95,248.90" fill="#1e4677" stroke="none" stroke-width="0.6"/>
<polygon points="455.85,241.32 453.70,245.19 458.00,245.19" fill="#1e4677" stroke="none" stroke-width="0.6"/>
<polygon points="464.90,220.62 462.75,224.49 467.05,224.49" fill="#1e4677" stroke="none" stroke-width="0.6"/>
<polygon points="473.95,217.97 471.80,221.84 476.10,221.84" fill="#1e4677" stroke="none" stroke-width="0.6"/>
<polygon points="483.00,207.36 480.85,211.23 485.15,211.23" fill="#1e4677" stroke="none" stroke-width="0.6"/>
<circle cx="392.50" cy="201.19" r="2.45" fill="#c8112e" stroke="none" stroke-width="0.6"/>
<circle cx="401.55" cy="201.72" r="2.45" fill="#c8112e" stroke="none" stroke-width="0.6"/>
<circle cx="410.60" cy="250.54" r="2.45" fill="#c8112e" stroke="none" stroke-width="0.6"/>
<circle cx="419.65" cy="263.27" r="2.45" fill="#c8112e" stroke="none" stroke-width="0.6"/>
<circle cx="428.70" cy="253.72" r="2.45" fill="#c8112e" stroke="none" stroke-width="0.6"/>
<circle cx="437.75" cy="243.11" r="2.45" fill="#c8112e" stroke="none" stroke-width="0.6"/>
<circle cx="446.80" cy="231.97" r="2.45" fill="#c8112e" stroke="none" stroke-width="0.6"/>
<circle cx="455.85" cy="227.72" r="2.45" fill="#c8112e" stroke="none" stroke-width="0.6"/>
<circle cx="464.90" cy="216.05" r="2.45" fill="#c8112e" stroke="none" stroke-width="0.6"/>
<circle cx="473.95" cy="211.80" r="2.45" fill="#c8112e" stroke="none" stroke-width="0.6"/>
<circle cx="483.00" cy="205.44" r="2.45" fill="#c8112e" stroke="none" stroke-width="0.6"/>
<text transform="translate(428.70,247.12)" font-size="7" text-anchor="middle" font-weight="normal" fill="#2a2a2a" stroke="#2a2a2a" stroke-width="0.1">*</text>
<text transform="translate(437.75,237.56)" font-size="7" text-anchor="middle" font-weight="normal" fill="#2a2a2a" stroke="#2a2a2a" stroke-width="0.1">***</text>
<text transform="translate(446.80,221.65)" font-size="7" text-anchor="middle" font-weight="normal" fill="#2a2a2a" stroke="#2a2a2a" stroke-width="0.1">***</text>
<text transform="translate(455.85,218.46)" font-size="7" text-anchor="middle" font-weight="normal" fill="#2a2a2a" stroke="#2a2a2a" stroke-width="0.1">***</text>
<text transform="translate(464.90,208.38)" font-size="7" text-anchor="middle" font-weight="normal" fill="#2a2a2a" stroke="#2a2a2a" stroke-width="0.1">*</text>
<line x1="444.50" y1="265.30" x2="460.50" y2="265.30" stroke="#c8112e" stroke-width="1.2"/>
<circle cx="452.50" cy="265.30" r="2.1" fill="#c8112e" stroke="none" stroke-width="0.6"/>
<text transform="translate(463.90,267.60)" font-size="6.4" text-anchor="start" font-weight="normal" fill="#2a2a2a" stroke="#2a2a2a" stroke-width="0.12">WT</text>
<line x1="444.50" y1="272.90" x2="460.50" y2="272.90" stroke="#1e4677" stroke-width="1.2"/>
<polygon points="452.50,270.74 450.50,274.34 454.50,274.34" fill="#1e4677" stroke="none" stroke-width="0.6"/>
<text transform="translate(463.90,275.20)" font-size="6.4" text-anchor="start" font-weight="normal" fill="#2a2a2a" stroke="#2a2a2a" stroke-width="0.12">MC5R<tspan font-size="3.6" dy="-2.6">−/−</tspan></text>
<text transform="translate(437.70,184.60)" font-size="9.2" text-anchor="middle" font-weight="normal" fill="#2a2a2a" textLength="13.0" lengthAdjust="spacingAndGlyphs" stroke="#2a2a2a" stroke-width="0.2">PLT</text>
<text transform="translate(357.00,233.40) rotate(-90)" font-size="8.0" text-anchor="middle" font-weight="normal" fill="#262626" textLength="20.7" lengthAdjust="spacingAndGlyphs" dominant-baseline="central" stroke="#262626" stroke-width="0.42">10<tspan dy="1.0" font-size="9.5">^</tspan><tspan dy="-1.0">9/L</tspan></text>
<text transform="translate(437.90,301.50)" font-size="9.4" text-anchor="middle" font-weight="normal" fill="#2a2a2a" textLength="57.9" lengthAdjust="spacingAndGlyphs" stroke="#2a2a2a" stroke-width="0.35" word-spacing="1.6">Days after IR (5.0 Gy)</text>
<text transform="translate(29.80,329.80)" font-size="11.8" text-anchor="start" font-weight="bold" fill="#111" stroke="#111" stroke-width="0.15">F</text>
<line x1="63.30" y1="347.90" x2="63.30" y2="437.00" stroke="#222" stroke-width="1.45"/>
<line x1="60.30" y1="436.40" x2="63.30" y2="436.40" stroke="#222" stroke-width="1.1"/>
<text transform="translate(55.20,436.40) rotate(-90)" font-size="7.0" text-anchor="middle" font-weight="normal" fill="#2a2a2a" dominant-baseline="central" stroke="#2a2a2a" stroke-width="0.12">0</text>
<line x1="60.30" y1="407.87" x2="63.30" y2="407.87" stroke="#222" stroke-width="1.1"/>
<text transform="translate(55.20,407.87) rotate(-90)" font-size="7.0" text-anchor="middle" font-weight="normal" fill="#2a2a2a" dominant-baseline="central" stroke="#2a2a2a" stroke-width="0.12">2</text>
<line x1="60.30" y1="379.33" x2="63.30" y2="379.33" stroke="#222" stroke-width="1.1"/>
<text transform="translate(55.20,379.33) rotate(-90)" font-size="7.0" text-anchor="middle" font-weight="normal" fill="#2a2a2a" dominant-baseline="central" stroke="#2a2a2a" stroke-width="0.12">4</text>
<line x1="60.30" y1="350.80" x2="63.30" y2="350.80" stroke="#222" stroke-width="1.1"/>
<text transform="translate(55.20,350.80) rotate(-90)" font-size="7.0" text-anchor="middle" font-weight="normal" fill="#2a2a2a" dominant-baseline="central" stroke="#2a2a2a" stroke-width="0.12">6</text>
<line x1="62.70" y1="436.40" x2="162.50" y2="436.40" stroke="#222" stroke-width="1.3"/>
<line x1="69.25" y1="436.40" x2="69.25" y2="439.40" stroke="#222" stroke-width="1.1"/>
<text transform="translate(69.25,448.60) scale(0.9,1)" font-size="7.0" text-anchor="middle" font-weight="normal" fill="#333" stroke="#333" stroke-width="0.22">0</text>
<line x1="78.23" y1="436.40" x2="78.23" y2="439.40" stroke="#222" stroke-width="1.1"/>
<text transform="translate(78.23,448.60) scale(0.9,1)" font-size="7.0" text-anchor="middle" font-weight="normal" fill="#333" stroke="#333" stroke-width="0.22">3</text>
<line x1="87.21" y1="436.40" x2="87.21" y2="439.40" stroke="#222" stroke-width="1.1"/>
<text transform="translate(87.21,448.60) scale(0.9,1)" font-size="7.0" text-anchor="middle" font-weight="normal" fill="#333" stroke="#333" stroke-width="0.22">6</text>
<line x1="96.19" y1="436.40" x2="96.19" y2="439.40" stroke="#222" stroke-width="1.1"/>
<text transform="translate(96.19,448.60) scale(0.9,1)" font-size="7.0" text-anchor="middle" font-weight="normal" fill="#333" stroke="#333" stroke-width="0.22">9</text>
<line x1="105.17" y1="436.40" x2="105.17" y2="439.40" stroke="#222" stroke-width="1.1"/>
<text transform="translate(105.17,448.60) scale(0.9,1)" font-size="7.0" text-anchor="middle" font-weight="normal" fill="#333" stroke="#333" stroke-width="0.22">12</text>
<line x1="114.15" y1="436.40" x2="114.15" y2="439.40" stroke="#222" stroke-width="1.1"/>
<text transform="translate(114.15,448.60) scale(0.9,1)" font-size="7.0" text-anchor="middle" font-weight="normal" fill="#333" stroke="#333" stroke-width="0.22">15</text>
<line x1="123.13" y1="436.40" x2="123.13" y2="439.40" stroke="#222" stroke-width="1.1"/>
<text transform="translate(123.13,448.60) scale(0.9,1)" font-size="7.0" text-anchor="middle" font-weight="normal" fill="#333" stroke="#333" stroke-width="0.22">18</text>
<line x1="132.11" y1="436.40" x2="132.11" y2="439.40" stroke="#222" stroke-width="1.1"/>
<text transform="translate(132.11,448.60) scale(0.9,1)" font-size="7.0" text-anchor="middle" font-weight="normal" fill="#333" stroke="#333" stroke-width="0.22">21</text>
<line x1="141.09" y1="436.40" x2="141.09" y2="439.40" stroke="#222" stroke-width="1.1"/>
<text transform="translate(141.09,448.60) scale(0.9,1)" font-size="7.0" text-anchor="middle" font-weight="normal" fill="#333" stroke="#333" stroke-width="0.22">24</text>
<line x1="150.07" y1="436.40" x2="150.07" y2="439.40" stroke="#222" stroke-width="1.1"/>
<text transform="translate(150.07,448.60) scale(0.9,1)" font-size="7.0" text-anchor="middle" font-weight="normal" fill="#333" stroke="#333" stroke-width="0.22">27</text>
<line x1="159.05" y1="436.40" x2="159.05" y2="439.40" stroke="#222" stroke-width="1.1"/>
<text transform="translate(159.05,448.60) scale(0.9,1)" font-size="7.0" text-anchor="middle" font-weight="normal" fill="#333" stroke="#333" stroke-width="0.22">30</text>
<line x1="69.25" y1="370.77" x2="69.25" y2="379.33" stroke="#3a6592" stroke-width="0.85"/>
<line x1="67.35" y1="370.77" x2="71.15" y2="370.77" stroke="#3a6592" stroke-width="0.85"/>
<line x1="67.35" y1="379.33" x2="71.15" y2="379.33" stroke="#3a6592" stroke-width="0.85"/>
<line x1="78.23" y1="405.01" x2="78.23" y2="413.57" stroke="#3a6592" stroke-width="0.85"/>
<line x1="76.33" y1="405.01" x2="80.13" y2="405.01" stroke="#3a6592" stroke-width="0.85"/>
<line x1="76.33" y1="413.57" x2="80.13" y2="413.57" stroke="#3a6592" stroke-width="0.85"/>
<line x1="87.21" y1="422.85" x2="87.21" y2="427.13" stroke="#3a6592" stroke-width="0.85"/>
<line x1="85.31" y1="422.85" x2="89.11" y2="422.85" stroke="#3a6592" stroke-width="0.85"/>
<line x1="85.31" y1="427.13" x2="89.11" y2="427.13" stroke="#3a6592" stroke-width="0.85"/>
<line x1="96.19" y1="424.27" x2="96.19" y2="428.55" stroke="#3a6592" stroke-width="0.85"/>
<line x1="94.29" y1="424.27" x2="98.09" y2="424.27" stroke="#3a6592" stroke-width="0.85"/>
<line x1="94.29" y1="428.55" x2="98.09" y2="428.55" stroke="#3a6592" stroke-width="0.85"/>
<line x1="105.17" y1="419.99" x2="105.17" y2="425.70" stroke="#3a6592" stroke-width="0.85"/>
<line x1="103.27" y1="419.99" x2="107.07" y2="419.99" stroke="#3a6592" stroke-width="0.85"/>
<line x1="103.27" y1="425.70" x2="107.07" y2="425.70" stroke="#3a6592" stroke-width="0.85"/>
<line x1="114.15" y1="412.15" x2="114.15" y2="419.28" stroke="#3a6592" stroke-width="0.85"/>
<line x1="112.25" y1="412.15" x2="116.05" y2="412.15" stroke="#3a6592" stroke-width="0.85"/>
<line x1="112.25" y1="419.28" x2="116.05" y2="419.28" stroke="#3a6592" stroke-width="0.85"/>
<line x1="123.13" y1="406.01" x2="123.13" y2="413.15" stroke="#3a6592" stroke-width="0.85"/>
<line x1="121.23" y1="406.01" x2="125.03" y2="406.01" stroke="#3a6592" stroke-width="0.85"/>
<line x1="121.23" y1="413.15" x2="125.03" y2="413.15" stroke="#3a6592" stroke-width="0.85"/>
<line x1="132.11" y1="397.17" x2="132.11" y2="407.15" stroke="#3a6592" stroke-width="0.85"/>
<line x1="130.21" y1="397.17" x2="134.01" y2="397.17" stroke="#3a6592" stroke-width="0.85"/>
<line x1="130.21" y1="407.15" x2="134.01" y2="407.15" stroke="#3a6592" stroke-width="0.85"/>
<line x1="141.09" y1="387.89" x2="141.09" y2="395.03" stroke="#3a6592" stroke-width="0.85"/>
<line x1="139.19" y1="387.89" x2="142.99" y2="387.89" stroke="#3a6592" stroke-width="0.85"/>
<line x1="139.19" y1="395.03" x2="142.99" y2="395.03" stroke="#3a6592" stroke-width="0.85"/>
<line x1="150.07" y1="383.61" x2="150.07" y2="392.17" stroke="#3a6592" stroke-width="0.85"/>
<line x1="148.17" y1="383.61" x2="151.97" y2="383.61" stroke="#3a6592" stroke-width="0.85"/>
<line x1="148.17" y1="392.17" x2="151.97" y2="392.17" stroke="#3a6592" stroke-width="0.85"/>
<line x1="159.05" y1="382.90" x2="159.05" y2="391.46" stroke="#3a6592" stroke-width="0.85"/>
<line x1="157.15" y1="382.90" x2="160.95" y2="382.90" stroke="#3a6592" stroke-width="0.85"/>
<line x1="157.15" y1="391.46" x2="160.95" y2="391.46" stroke="#3a6592" stroke-width="0.85"/>
<line x1="69.25" y1="362.93" x2="69.25" y2="378.62" stroke="#b83a56" stroke-width="0.85"/>
<line x1="67.35" y1="362.93" x2="71.15" y2="362.93" stroke="#b83a56" stroke-width="0.85"/>
<line x1="67.35" y1="378.62" x2="71.15" y2="378.62" stroke="#b83a56" stroke-width="0.85"/>
<line x1="78.23" y1="402.87" x2="78.23" y2="412.86" stroke="#b83a56" stroke-width="0.85"/>
<line x1="76.33" y1="402.87" x2="80.13" y2="402.87" stroke="#b83a56" stroke-width="0.85"/>
<line x1="76.33" y1="412.86" x2="80.13" y2="412.86" stroke="#b83a56" stroke-width="0.85"/>
<line x1="87.21" y1="419.28" x2="87.21" y2="424.99" stroke="#b83a56" stroke-width="0.85"/>
<line x1="85.31" y1="419.28" x2="89.11" y2="419.28" stroke="#b83a56" stroke-width="0.85"/>
<line x1="85.31" y1="424.99" x2="89.11" y2="424.99" stroke="#b83a56" stroke-width="0.85"/>
<line x1="96.19" y1="419.71" x2="96.19" y2="425.41" stroke="#b83a56" stroke-width="0.85"/>
<line x1="94.29" y1="419.71" x2="98.09" y2="419.71" stroke="#b83a56" stroke-width="0.85"/>
<line x1="94.29" y1="425.41" x2="98.09" y2="425.41" stroke="#b83a56" stroke-width="0.85"/>
<line x1="105.17" y1="411.43" x2="105.17" y2="419.99" stroke="#b83a56" stroke-width="0.85"/>
<line x1="103.27" y1="411.43" x2="107.07" y2="411.43" stroke="#b83a56" stroke-width="0.85"/>
<line x1="103.27" y1="419.99" x2="107.07" y2="419.99" stroke="#b83a56" stroke-width="0.85"/>
<line x1="114.15" y1="400.73" x2="114.15" y2="410.72" stroke="#b83a56" stroke-width="0.85"/>
<line x1="112.25" y1="400.73" x2="116.05" y2="400.73" stroke="#b83a56" stroke-width="0.85"/>
<line x1="112.25" y1="410.72" x2="116.05" y2="410.72" stroke="#b83a56" stroke-width="0.85"/>
<line x1="123.13" y1="393.60" x2="123.13" y2="403.59" stroke="#b83a56" stroke-width="0.85"/>
<line x1="121.23" y1="393.60" x2="125.03" y2="393.60" stroke="#b83a56" stroke-width="0.85"/>
<line x1="121.23" y1="403.59" x2="125.03" y2="403.59" stroke="#b83a56" stroke-width="0.85"/>
<line x1="132.11" y1="387.18" x2="132.11" y2="395.74" stroke="#b83a56" stroke-width="0.85"/>
<line x1="130.21" y1="387.18" x2="134.01" y2="387.18" stroke="#b83a56" stroke-width="0.85"/>
<line x1="130.21" y1="395.74" x2="134.01" y2="395.74" stroke="#b83a56" stroke-width="0.85"/>
<line x1="141.09" y1="380.76" x2="141.09" y2="390.75" stroke="#b83a56" stroke-width="0.85"/>
<line x1="139.19" y1="380.76" x2="142.99" y2="380.76" stroke="#b83a56" stroke-width="0.85"/>
<line x1="139.19" y1="390.75" x2="142.99" y2="390.75" stroke="#b83a56" stroke-width="0.85"/>
<line x1="150.07" y1="377.91" x2="150.07" y2="392.17" stroke="#b83a56" stroke-width="0.85"/>
<line x1="148.17" y1="377.91" x2="151.97" y2="377.91" stroke="#b83a56" stroke-width="0.85"/>
<line x1="148.17" y1="392.17" x2="151.97" y2="392.17" stroke="#b83a56" stroke-width="0.85"/>
<line x1="159.05" y1="378.62" x2="159.05" y2="388.61" stroke="#b83a56" stroke-width="0.85"/>
<line x1="157.15" y1="378.62" x2="160.95" y2="378.62" stroke="#b83a56" stroke-width="0.85"/>
<line x1="157.15" y1="388.61" x2="160.95" y2="388.61" stroke="#b83a56" stroke-width="0.85"/>
<polyline points="69.25,375.05 78.23,409.29 87.21,424.99 96.19,426.41 105.17,422.85 114.15,415.71 123.13,409.58 132.11,402.16 141.09,391.46 150.07,387.89 159.05,387.18" fill="none" stroke="#1e4677" stroke-width="1.1" stroke-linejoin="round"/>
<polyline points="69.25,370.77 78.23,407.87 87.21,422.13 96.19,422.56 105.17,415.71 114.15,405.73 123.13,398.59 132.11,391.46 141.09,385.75 150.07,385.04 159.05,383.61" fill="none" stroke="#c8112e" stroke-width="1.1" stroke-linejoin="round"/>
<polygon points="69.25,372.73 67.10,376.60 71.40,376.60" fill="#1e4677" stroke="none" stroke-width="0.6"/>
<polygon points="78.23,406.97 76.08,410.84 80.38,410.84" fill="#1e4677" stroke="none" stroke-width="0.6"/>
<polygon points="87.21,422.66 85.06,426.53 89.36,426.53" fill="#1e4677" stroke="none" stroke-width="0.6"/>
<polygon points="96.19,424.09 94.04,427.96 98.34,427.96" fill="#1e4677" stroke="none" stroke-width="0.6"/>
<polygon points="105.17,420.52 103.02,424.39 107.32,424.39" fill="#1e4677" stroke="none" stroke-width="0.6"/>
<polygon points="114.15,413.39 112.00,417.26 116.30,417.26" fill="#1e4677" stroke="none" stroke-width="0.6"/>
<polygon points="123.13,407.26 120.98,411.13 125.28,411.13" fill="#1e4677" stroke="none" stroke-width="0.6"/>
<polygon points="132.11,399.84 129.96,403.71 134.26,403.71" fill="#1e4677" stroke="none" stroke-width="0.6"/>
<polygon points="141.09,389.14 138.94,393.01 143.24,393.01" fill="#1e4677" stroke="none" stroke-width="0.6"/>
<polygon points="150.07,385.57 147.92,389.44 152.22,389.44" fill="#1e4677" stroke="none" stroke-width="0.6"/>
<polygon points="159.05,384.86 156.90,388.73 161.20,388.73" fill="#1e4677" stroke="none" stroke-width="0.6"/>
<circle cx="69.25" cy="370.77" r="2.45" fill="#c8112e" stroke="none" stroke-width="0.6"/>
<circle cx="78.23" cy="407.87" r="2.45" fill="#c8112e" stroke="none" stroke-width="0.6"/>
<circle cx="87.21" cy="422.13" r="2.45" fill="#c8112e" stroke="none" stroke-width="0.6"/>
<circle cx="96.19" cy="422.56" r="2.45" fill="#c8112e" stroke="none" stroke-width="0.6"/>
<circle cx="105.17" cy="415.71" r="2.45" fill="#c8112e" stroke="none" stroke-width="0.6"/>
<circle cx="114.15" cy="405.73" r="2.45" fill="#c8112e" stroke="none" stroke-width="0.6"/>
<circle cx="123.13" cy="398.59" r="2.45" fill="#c8112e" stroke="none" stroke-width="0.6"/>
<circle cx="132.11" cy="391.46" r="2.45" fill="#c8112e" stroke="none" stroke-width="0.6"/>
<circle cx="141.09" cy="385.75" r="2.45" fill="#c8112e" stroke="none" stroke-width="0.6"/>
<circle cx="150.07" cy="385.04" r="2.45" fill="#c8112e" stroke="none" stroke-width="0.6"/>
<circle cx="159.05" cy="383.61" r="2.45" fill="#c8112e" stroke="none" stroke-width="0.6"/>
<text transform="translate(114.15,399.43)" font-size="7" text-anchor="middle" font-weight="normal" fill="#2a2a2a" stroke="#2a2a2a" stroke-width="0.1">*</text>
<text transform="translate(123.13,392.30)" font-size="7" text-anchor="middle" font-weight="normal" fill="#2a2a2a" stroke="#2a2a2a" stroke-width="0.1">**</text>
<text transform="translate(132.11,385.88)" font-size="7" text-anchor="middle" font-weight="normal" fill="#2a2a2a" stroke="#2a2a2a" stroke-width="0.1">*</text>
<line x1="121.00" y1="424.25" x2="136.00" y2="424.25" stroke="#c8112e" stroke-width="1.2"/>
<circle cx="128.50" cy="424.25" r="2.1" fill="#c8112e" stroke="none" stroke-width="0.6"/>
<text transform="translate(139.40,426.55)" font-size="6.4" text-anchor="start" font-weight="normal" fill="#2a2a2a" stroke="#2a2a2a" stroke-width="0.12">WT</text>
<line x1="121.00" y1="431.75" x2="136.00" y2="431.75" stroke="#1e4677" stroke-width="1.2"/>
<polygon points="128.50,429.59 126.50,433.19 130.50,433.19" fill="#1e4677" stroke="none" stroke-width="0.6"/>
<text transform="translate(139.40,434.05)" font-size="6.4" text-anchor="start" font-weight="normal" fill="#2a2a2a" stroke="#2a2a2a" stroke-width="0.12">MC5R<tspan font-size="3.6" dy="-2.6">−/−</tspan></text>
<text transform="translate(114.30,342.70)" font-size="9.2" text-anchor="middle" font-weight="normal" fill="#2a2a2a" textLength="13.1" lengthAdjust="spacingAndGlyphs" stroke="#2a2a2a" stroke-width="0.2">BM</text>
<text transform="translate(44.60,392.20) rotate(-90)" font-size="7.6" text-anchor="middle" font-weight="normal" fill="#262626" textLength="58.4" lengthAdjust="spacingAndGlyphs" dominant-baseline="central" stroke="#262626" stroke-width="0.42">Cell number (×10^7)</text>
<text transform="translate(112.50,459.50)" font-size="9.4" text-anchor="middle" font-weight="normal" fill="#2a2a2a" textLength="57.9" lengthAdjust="spacingAndGlyphs" stroke="#2a2a2a" stroke-width="0.35" word-spacing="1.6">Days after IR (5.0 Gy)</text>
<text transform="translate(181.20,329.80)" font-size="11.8" text-anchor="start" font-weight="bold" fill="#111" stroke="#111" stroke-width="0.15">G</text>
<text transform="translate(212.90,343.60)" font-size="6.8" text-anchor="start" font-weight="normal" fill="#2a2a2a" stroke="#2a2a2a" stroke-width="0.08">Lin<tspan font-size="4.2" dy="-2.6">−</tspan><tspan dy="2.6"> Gated</tspan></text>
<line x1="209.70" y1="351.00" x2="209.70" y2="459.00" stroke="#333" stroke-width="1.3"/>
<polygon points="209.7,347.8 207.2,353.5 212.2,353.5" fill="#222"/>
<line x1="213.00" y1="460.60" x2="262.00" y2="460.60" stroke="#333" stroke-width="1.3"/>
<polygon points="267.2,460.6 261.5,458 261.5,463.2" fill="#222"/>
<rect x="212.80" y="345.60" width="54.80" height="54.70" fill="white" stroke="#b5b5b5" stroke-width="0.8"/>
<g filter="url(#blur1)">
<ellipse cx="237" cy="388.5" rx="12.5" ry="6" fill="#3f6ec6" fill-opacity="0.75"/>
<ellipse cx="238" cy="369" rx="9.5" ry="5.5" fill="#4f7ecc" fill-opacity="0.65"/>
<rect x="228" y="374" width="19" height="9" fill="#8fb0e6" fill-opacity="0.45"/>
<rect x="219.0" y="363.0" width="9.8" height="33" rx="3.5" fill="#2a5cb5"/>
<rect x="221.0" y="365.2" width="5.2" height="29" rx="2.2" fill="#5cc45a"/>
<ellipse cx="223.3" cy="389.3" rx="3.0" ry="4.0" fill="#ecd838"/>
<ellipse cx="223.3" cy="389.5" rx="1.7" ry="2.3" fill="#e2381c"/>
</g>
<path d="M227.8 388.5h1v1h-1zM244.5 384.9h1v1h-1zM227.0 386.7h1v1h-1zM240.6 391.4h1v1h-1zM227.9 381.8h1v1h-1zM242.3 388.9h1v1h-1zM248.5 390.9h1v1h-1zM236.2 385.9h1v1h-1zM256.3 385.8h1v1h-1zM231.1 382.4h1v1h-1zM237.7 387.6h1v1h-1zM234.4 386.8h1v1h-1zM239.0 389.8h1v1h-1zM245.2 387.8h1v1h-1zM223.6 389.8h1v1h-1zM226.4 386.3h1v1h-1zM225.9 387.0h1v1h-1zM231.2 387.9h1v1h-1zM261.8 386.8h1v1h-1zM243.3 381.7h1v1h-1zM234.8 389.6h1v1h-1zM236.3 388.5h1v1h-1zM237.8 383.0h1v1h-1zM241.2 383.8h1v1h-1zM251.0 385.0h1v1h-1zM242.1 387.0h1v1h-1zM244.1 384.6h1v1h-1zM244.5 386.5h1v1h-1zM246.5 389.5h1v1h-1zM238.1 383.9h1v1h-1zM242.8 388.9h1v1h-1zM249.3 385.5h1v1h-1zM241.2 389.0h1v1h-1zM239.1 387.8h1v1h-1zM238.4 384.6h1v1h-1zM229.4 385.4h1v1h-1zM241.4 393.0h1v1h-1zM244.3 391.2h1v1h-1zM242.8 389.8h1v1h-1zM238.4 390.1h1v1h-1zM250.3 385.7h1v1h-1zM231.8 394.8h1v1h-1zM238.8 390.9h1v1h-1zM243.6 382.5h1v1h-1zM255.3 394.1h1v1h-1zM238.3 390.0h1v1h-1zM238.0 383.5h1v1h-1zM236.2 388.5h1v1h-1zM245.4 389.8h1v1h-1zM237.4 392.4h1v1h-1zM231.3 390.2h1v1h-1zM245.3 385.8h1v1h-1zM223.6 383.4h1v1h-1zM238.8 389.1h1v1h-1zM248.6 383.0h1v1h-1zM237.0 389.6h1v1h-1zM235.8 377.5h1v1h-1zM243.0 396.2h1v1h-1zM244.5 383.3h1v1h-1zM233.9 387.9h1v1h-1zM255.7 389.5h1v1h-1zM237.9 393.2h1v1h-1zM236.4 394.4h1v1h-1zM231.9 385.1h1v1h-1zM242.4 392.7h1v1h-1zM241.9 388.2h1v1h-1zM223.3 384.1h1v1h-1zM232.4 384.9h1v1h-1zM241.4 385.7h1v1h-1zM242.9 387.3h1v1h-1zM234.5 387.5h1v1h-1zM240.2 390.4h1v1h-1zM233.4 386.1h1v1h-1zM226.8 393.4h1v1h-1zM247.9 386.3h1v1h-1zM233.4 382.1h1v1h-1zM238.3 387.8h1v1h-1zM253.4 388.0h1v1h-1zM231.2 377.2h1v1h-1zM247.6 387.8h1v1h-1zM224.9 387.7h1v1h-1zM245.4 389.3h1v1h-1zM235.7 378.4h1v1h-1zM236.1 380.8h1v1h-1zM241.5 378.4h1v1h-1zM230.2 391.9h1v1h-1zM249.3 382.3h1v1h-1zM225.5 390.5h1v1h-1zM243.4 383.1h1v1h-1zM231.8 384.2h1v1h-1zM228.1 384.3h1v1h-1zM246.4 389.8h1v1h-1zM252.4 386.7h1v1h-1zM236.0 383.1h1v1h-1zM236.1 381.7h1v1h-1zM223.7 389.8h1v1h-1zM247.8 390.3h1v1h-1zM247.0 388.0h1v1h-1zM231.6 387.3h1v1h-1zM234.2 382.6h1v1h-1zM224.3 381.1h1v1h-1zM237.0 387.6h1v1h-1zM233.4 392.7h1v1h-1zM238.3 389.3h1v1h-1zM246.1 383.7h1v1h-1zM222.2 390.0h1v1h-1zM231.8 392.2h1v1h-1zM239.5 391.0h1v1h-1zM242.7 378.7h1v1h-1zM242.4 384.3h1v1h-1zM231.3 385.3h1v1h-1zM242.8 390.5h1v1h-1zM244.6 380.4h1v1h-1zM232.6 377.5h1v1h-1zM236.2 389.4h1v1h-1zM231.3 388.0h1v1h-1zM238.7 391.0h1v1h-1zM230.8 383.7h1v1h-1zM231.3 394.0h1v1h-1zM245.2 386.5h1v1h-1zM238.7 387.5h1v1h-1zM238.5 386.2h1v1h-1zM234.5 382.0h1v1h-1zM232.2 393.6h1v1h-1zM241.0 387.3h1v1h-1zM235.4 387.3h1v1h-1zM239.7 384.4h1v1h-1zM238.5 388.0h1v1h-1zM231.4 383.8h1v1h-1zM229.5 382.7h1v1h-1zM243.7 377.6h1v1h-1zM235.0 384.6h1v1h-1zM232.4 387.4h1v1h-1zM245.5 387.3h1v1h-1zM235.9 384.6h1v1h-1zM236.0 390.6h1v1h-1zM234.0 382.4h1v1h-1zM227.5 382.6h1v1h-1zM226.6 391.4h1v1h-1zM239.7 386.1h1v1h-1zM247.9 384.4h1v1h-1zM242.6 390.2h1v1h-1zM225.4 380.8h1v1h-1zM230.0 390.6h1v1h-1zM246.7 382.1h1v1h-1zM244.9 385.5h1v1h-1zM234.0 384.8h1v1h-1zM234.6 379.7h1v1h-1zM229.5 382.1h1v1h-1z" fill="#2d5db5" fill-opacity="0.55"/>
<path d="M241.2 376.3h1v1h-1zM255.8 367.8h1v1h-1zM226.8 367.6h1v1h-1zM231.9 375.9h1v1h-1zM241.7 366.4h1v1h-1zM244.1 370.9h1v1h-1zM227.4 367.1h1v1h-1zM236.4 369.1h1v1h-1zM238.9 367.8h1v1h-1zM239.2 366.9h1v1h-1zM232.2 374.3h1v1h-1zM240.3 370.5h1v1h-1zM227.6 368.4h1v1h-1zM243.3 364.5h1v1h-1zM245.1 367.6h1v1h-1zM240.6 368.5h1v1h-1zM239.4 373.2h1v1h-1zM235.4 374.5h1v1h-1zM232.9 365.7h1v1h-1zM242.6 365.3h1v1h-1zM235.6 372.2h1v1h-1zM245.9 362.8h1v1h-1zM241.3 375.6h1v1h-1zM245.8 368.2h1v1h-1zM234.1 368.0h1v1h-1zM230.5 368.1h1v1h-1zM236.8 368.5h1v1h-1zM245.7 368.2h1v1h-1zM228.5 372.7h1v1h-1zM231.0 367.4h1v1h-1zM237.1 367.8h1v1h-1zM231.5 368.1h1v1h-1zM252.2 366.9h1v1h-1zM237.1 372.9h1v1h-1zM242.8 371.7h1v1h-1zM243.6 362.1h1v1h-1zM232.4 369.4h1v1h-1zM241.2 373.5h1v1h-1zM241.1 368.2h1v1h-1zM238.3 368.3h1v1h-1zM239.6 371.4h1v1h-1zM235.8 366.2h1v1h-1zM232.4 372.8h1v1h-1zM246.3 372.5h1v1h-1zM243.6 371.9h1v1h-1zM238.0 371.3h1v1h-1zM231.2 368.3h1v1h-1zM233.2 371.5h1v1h-1zM234.2 368.6h1v1h-1zM240.6 373.7h1v1h-1zM232.9 365.7h1v1h-1zM243.3 365.1h1v1h-1zM240.9 367.0h1v1h-1zM237.3 362.6h1v1h-1zM242.6 367.2h1v1h-1zM232.2 376.3h1v1h-1zM242.6 381.3h1v1h-1zM240.7 367.8h1v1h-1zM238.7 374.6h1v1h-1zM237.8 370.6h1v1h-1zM241.4 365.8h1v1h-1zM238.8 367.2h1v1h-1zM229.9 372.1h1v1h-1zM242.3 369.3h1v1h-1zM232.1 362.0h1v1h-1zM241.2 368.7h1v1h-1zM227.1 368.8h1v1h-1zM228.1 368.9h1v1h-1zM238.9 370.2h1v1h-1zM239.4 369.6h1v1h-1zM230.6 367.7h1v1h-1zM234.7 368.2h1v1h-1zM239.8 371.2h1v1h-1zM248.6 360.0h1v1h-1zM240.6 368.3h1v1h-1zM252.8 372.3h1v1h-1zM227.3 370.4h1v1h-1zM234.6 372.5h1v1h-1zM231.1 368.6h1v1h-1zM237.1 368.7h1v1h-1z" fill="#3d6cc0" fill-opacity="0.5"/>
<path d="M241.0 381.4h1v1h-1zM230.6 377.5h1v1h-1zM241.8 377.1h1v1h-1zM230.9 374.7h1v1h-1zM237.3 373.2h1v1h-1zM244.9 381.0h1v1h-1zM241.1 381.6h1v1h-1zM239.6 377.0h1v1h-1zM239.0 378.0h1v1h-1zM246.7 381.0h1v1h-1zM232.2 382.1h1v1h-1zM241.9 380.8h1v1h-1zM243.3 377.1h1v1h-1zM244.9 381.8h1v1h-1zM240.9 380.7h1v1h-1zM242.3 377.1h1v1h-1zM241.5 373.7h1v1h-1zM233.8 377.7h1v1h-1zM227.2 376.6h1v1h-1zM239.8 379.2h1v1h-1zM231.6 382.4h1v1h-1zM240.3 376.4h1v1h-1zM240.2 378.7h1v1h-1zM237.7 376.9h1v1h-1zM247.0 379.4h1v1h-1zM241.0 380.6h1v1h-1zM246.6 373.2h1v1h-1zM239.3 380.4h1v1h-1zM232.1 377.0h1v1h-1zM228.0 375.0h1v1h-1zM234.5 374.0h1v1h-1zM232.0 382.1h1v1h-1zM238.0 378.1h1v1h-1zM246.3 378.7h1v1h-1zM246.9 379.4h1v1h-1zM243.2 373.8h1v1h-1zM239.0 380.6h1v1h-1zM227.9 382.3h1v1h-1zM230.2 377.7h1v1h-1zM230.4 378.0h1v1h-1z" fill="#6a8fd0" fill-opacity="0.4"/>
<text transform="translate(224.00,355.80)" font-size="5.8" text-anchor="middle" font-weight="normal" fill="#3a3a3a" textLength="8.1" lengthAdjust="spacingAndGlyphs" stroke="#3a3a3a" stroke-width="0.1">MP</text>
<text transform="translate(224.00,360.50)" font-size="5.8" text-anchor="middle" font-weight="normal" fill="#3a3a3a" stroke="#3a3a3a" stroke-width="0.1">16.3</text>
<text transform="translate(241.00,355.80)" font-size="5.8" text-anchor="middle" font-weight="normal" fill="#3a3a3a" textLength="10.1" lengthAdjust="spacingAndGlyphs" stroke="#3a3a3a" stroke-width="0.1">LSK</text>
<text transform="translate(241.00,360.50)" font-size="5.8" text-anchor="middle" font-weight="normal" fill="#3a3a3a" stroke="#3a3a3a" stroke-width="0.1">1.82</text>
<rect x="219.30" y="362.90" width="9.20" height="12.10" fill="none" stroke="#8a8a8a" stroke-width="0.5"/>
<line x1="228.50" y1="362.90" x2="228.50" y2="375.00" stroke="#333" stroke-width="1.0"/>
<rect x="228.50" y="362.90" width="19.10" height="12.10" fill="none" stroke="#8a8a8a" stroke-width="0.5"/>
<line x1="247.60" y1="362.90" x2="247.60" y2="375.00" stroke="#555" stroke-width="0.9"/>
<line x1="247.60" y1="368.90" x2="270.00" y2="368.90" stroke="#222" stroke-width="1.3"/>
<polygon points="274.5,368.9 269.0,366.29999999999995 269.0,371.5" fill="#222"/>
<rect x="212.80" y="403.40" width="54.40" height="53.00" fill="white" stroke="#b5b5b5" stroke-width="0.8"/>
<g filter="url(#blur1)">
<ellipse cx="237" cy="446.5" rx="12" ry="5" fill="#5283d0" fill-opacity="0.65"/>
<ellipse cx="240" cy="425.5" rx="8" ry="4.5" fill="#98b5e6" fill-opacity="0.4"/>
<ellipse cx="223.5" cy="446" rx="6.5" ry="8" fill="#3566bd" fill-opacity="0.85"/>
<rect x="220.3" y="422.0" width="7.2" height="31.8" rx="3" fill="#2a5bb4"/>
<rect x="222" y="424" width="3.6" height="18" rx="1.5" fill="#4b8fd8" fill-opacity="0.8"/>
<ellipse cx="223.2" cy="447.2" rx="3.8" ry="4.4" fill="#57c05a"/>
<ellipse cx="223.2" cy="447.2" rx="2.3" ry="2.8" fill="#e3dd3a"/>
<ellipse cx="223.2" cy="447.2" rx="1.1" ry="1.3" fill="#e0501c"/>
</g>
<path d="M226.2 446.8h1v1h-1zM234.9 444.3h1v1h-1zM244.3 446.2h1v1h-1zM234.9 452.3h1v1h-1zM233.3 441.6h1v1h-1zM226.7 444.2h1v1h-1zM241.9 449.0h1v1h-1zM245.5 452.5h1v1h-1zM249.9 448.3h1v1h-1zM247.2 448.4h1v1h-1zM233.0 449.0h1v1h-1zM237.8 445.4h1v1h-1zM252.5 448.9h1v1h-1zM233.7 445.9h1v1h-1zM255.1 445.3h1v1h-1zM243.0 448.4h1v1h-1zM241.3 448.3h1v1h-1zM233.8 444.6h1v1h-1zM236.2 444.9h1v1h-1zM243.6 451.7h1v1h-1zM230.7 448.1h1v1h-1zM230.0 443.7h1v1h-1zM235.6 446.6h1v1h-1zM234.1 436.9h1v1h-1zM247.9 445.2h1v1h-1zM232.6 448.6h1v1h-1zM232.9 441.1h1v1h-1zM241.1 447.7h1v1h-1zM231.1 449.2h1v1h-1zM240.3 442.2h1v1h-1zM250.7 447.1h1v1h-1zM228.8 447.8h1v1h-1zM238.4 449.6h1v1h-1zM227.2 449.9h1v1h-1zM244.6 448.7h1v1h-1zM242.1 450.9h1v1h-1zM242.9 446.6h1v1h-1zM231.0 450.1h1v1h-1zM244.9 447.2h1v1h-1zM238.6 448.8h1v1h-1zM218.3 447.3h1v1h-1zM218.4 447.0h1v1h-1zM245.4 452.9h1v1h-1zM233.8 447.7h1v1h-1zM236.8 438.3h1v1h-1zM242.9 446.1h1v1h-1zM237.9 442.8h1v1h-1zM237.1 446.5h1v1h-1zM247.1 447.2h1v1h-1zM235.4 446.0h1v1h-1zM231.2 451.5h1v1h-1zM242.3 441.6h1v1h-1zM238.2 450.2h1v1h-1zM226.6 446.7h1v1h-1zM235.6 454.4h1v1h-1zM240.5 444.7h1v1h-1zM233.1 452.9h1v1h-1zM233.8 454.3h1v1h-1zM225.5 445.5h1v1h-1zM235.5 443.7h1v1h-1zM235.7 448.6h1v1h-1zM232.3 441.1h1v1h-1zM247.6 451.4h1v1h-1zM232.1 447.2h1v1h-1zM217.8 449.9h1v1h-1zM227.2 444.2h1v1h-1zM253.8 441.7h1v1h-1zM237.5 442.4h1v1h-1zM223.3 442.0h1v1h-1zM239.4 441.5h1v1h-1zM232.9 448.7h1v1h-1zM236.1 441.5h1v1h-1zM248.7 446.6h1v1h-1zM248.0 442.4h1v1h-1zM250.2 441.4h1v1h-1zM224.1 444.7h1v1h-1zM234.5 447.1h1v1h-1zM233.1 448.4h1v1h-1zM247.5 443.8h1v1h-1zM226.9 444.7h1v1h-1zM243.6 449.1h1v1h-1zM234.7 442.7h1v1h-1zM237.2 449.6h1v1h-1zM231.9 450.8h1v1h-1zM239.1 447.2h1v1h-1zM232.6 451.0h1v1h-1zM237.7 440.9h1v1h-1zM243.6 444.7h1v1h-1zM245.5 446.8h1v1h-1zM232.6 446.8h1v1h-1zM233.6 443.2h1v1h-1zM237.5 449.1h1v1h-1zM237.9 445.8h1v1h-1zM233.1 448.2h1v1h-1zM239.4 449.6h1v1h-1zM240.1 453.7h1v1h-1zM225.4 446.0h1v1h-1zM241.4 449.3h1v1h-1zM225.7 441.8h1v1h-1zM237.0 449.9h1v1h-1zM245.7 440.8h1v1h-1zM238.3 450.3h1v1h-1zM237.5 442.5h1v1h-1zM231.9 441.4h1v1h-1zM246.4 445.2h1v1h-1zM234.1 443.1h1v1h-1zM236.3 442.9h1v1h-1zM229.9 446.0h1v1h-1zM235.6 447.8h1v1h-1zM238.4 450.3h1v1h-1zM237.0 447.1h1v1h-1zM239.0 443.3h1v1h-1zM246.3 444.2h1v1h-1zM225.3 450.6h1v1h-1zM242.3 444.1h1v1h-1zM244.6 449.6h1v1h-1zM242.6 442.0h1v1h-1zM238.7 442.5h1v1h-1zM232.7 444.2h1v1h-1zM230.9 447.9h1v1h-1zM231.3 448.3h1v1h-1zM238.6 444.0h1v1h-1zM238.6 448.6h1v1h-1zM246.0 445.2h1v1h-1zM250.5 448.2h1v1h-1zM246.7 441.4h1v1h-1zM229.3 450.4h1v1h-1zM235.6 447.8h1v1h-1zM246.4 441.0h1v1h-1zM240.7 453.0h1v1h-1zM243.4 446.5h1v1h-1zM241.6 446.2h1v1h-1zM243.2 450.7h1v1h-1zM235.6 448.2h1v1h-1zM239.6 448.8h1v1h-1zM243.6 442.4h1v1h-1zM246.1 449.2h1v1h-1zM229.0 445.1h1v1h-1zM226.3 445.1h1v1h-1z" fill="#2d5db5" fill-opacity="0.5"/>
<path d="M242.2 421.6h1v1h-1zM235.6 422.5h1v1h-1zM236.0 422.8h1v1h-1zM233.8 426.8h1v1h-1zM238.9 422.6h1v1h-1zM246.2 423.4h1v1h-1zM245.7 421.4h1v1h-1zM248.7 423.8h1v1h-1zM234.5 426.4h1v1h-1zM232.2 421.9h1v1h-1zM241.7 423.7h1v1h-1zM242.7 425.5h1v1h-1zM241.8 425.5h1v1h-1zM244.5 425.1h1v1h-1zM246.9 428.0h1v1h-1zM228.4 419.8h1v1h-1zM249.6 423.8h1v1h-1zM241.4 424.8h1v1h-1zM241.9 431.8h1v1h-1zM236.0 425.3h1v1h-1zM240.3 421.9h1v1h-1zM235.0 424.3h1v1h-1zM240.1 426.3h1v1h-1zM228.4 420.4h1v1h-1zM250.2 424.6h1v1h-1zM245.2 423.8h1v1h-1zM235.9 431.5h1v1h-1zM232.8 422.4h1v1h-1zM244.3 425.2h1v1h-1zM230.3 425.5h1v1h-1zM244.6 420.5h1v1h-1zM236.9 427.5h1v1h-1zM251.8 418.1h1v1h-1zM236.1 425.2h1v1h-1zM234.7 422.4h1v1h-1zM237.2 426.7h1v1h-1zM233.8 427.7h1v1h-1zM245.2 427.7h1v1h-1zM249.5 423.5h1v1h-1zM239.9 428.1h1v1h-1zM247.8 427.9h1v1h-1zM237.5 423.6h1v1h-1zM232.3 423.8h1v1h-1zM234.8 423.6h1v1h-1zM237.9 427.6h1v1h-1zM245.4 425.0h1v1h-1zM233.3 424.9h1v1h-1zM242.8 427.7h1v1h-1zM241.5 427.5h1v1h-1zM236.3 427.1h1v1h-1zM244.7 424.0h1v1h-1zM235.7 428.8h1v1h-1zM234.2 427.2h1v1h-1zM238.6 424.1h1v1h-1zM238.7 423.8h1v1h-1zM240.0 430.5h1v1h-1zM249.0 424.7h1v1h-1zM243.0 427.8h1v1h-1zM237.7 430.6h1v1h-1zM240.4 427.0h1v1h-1z" fill="#3d6cc0" fill-opacity="0.45"/>
<path d="M239.8 437.6h1v1h-1zM238.8 435.7h1v1h-1zM246.2 435.5h1v1h-1zM245.7 434.7h1v1h-1zM236.3 434.3h1v1h-1zM241.3 439.0h1v1h-1zM231.8 436.3h1v1h-1zM241.5 436.0h1v1h-1zM240.2 437.4h1v1h-1zM241.3 434.3h1v1h-1zM233.1 430.3h1v1h-1zM244.8 439.5h1v1h-1zM234.8 441.6h1v1h-1zM245.0 431.8h1v1h-1zM243.7 435.1h1v1h-1zM233.3 433.1h1v1h-1zM235.3 430.6h1v1h-1zM228.0 431.4h1v1h-1zM233.1 431.9h1v1h-1zM229.4 440.0h1v1h-1zM234.6 435.9h1v1h-1zM239.0 441.2h1v1h-1zM229.9 432.7h1v1h-1zM244.2 440.9h1v1h-1zM245.6 436.3h1v1h-1zM234.3 432.3h1v1h-1zM245.2 439.2h1v1h-1zM238.0 439.5h1v1h-1zM232.2 436.4h1v1h-1zM245.1 431.3h1v1h-1zM239.3 432.2h1v1h-1zM243.8 440.1h1v1h-1zM239.9 435.2h1v1h-1zM227.4 435.9h1v1h-1zM234.2 434.8h1v1h-1z" fill="#6a8fd0" fill-opacity="0.35"/>
<text transform="translate(224.00,413.60)" font-size="5.8" text-anchor="middle" font-weight="normal" fill="#3a3a3a" textLength="8.1" lengthAdjust="spacingAndGlyphs" stroke="#3a3a3a" stroke-width="0.1">MP</text>
<text transform="translate(224.00,418.30)" font-size="5.8" text-anchor="middle" font-weight="normal" fill="#3a3a3a" stroke="#3a3a3a" stroke-width="0.1">10.2</text>
<text transform="translate(241.00,413.60)" font-size="5.8" text-anchor="middle" font-weight="normal" fill="#3a3a3a" textLength="10.1" lengthAdjust="spacingAndGlyphs" stroke="#3a3a3a" stroke-width="0.1">LSK</text>
<text transform="translate(241.00,418.30)" font-size="5.8" text-anchor="middle" font-weight="normal" fill="#3a3a3a" stroke="#3a3a3a" stroke-width="0.1">0.82</text>
<rect x="219.70" y="420.20" width="8.80" height="11.20" fill="none" stroke="#8a8a8a" stroke-width="0.5"/>
<line x1="228.50" y1="420.20" x2="228.50" y2="431.40" stroke="#333" stroke-width="1.0"/>
<rect x="233.20" y="420.20" width="15.00" height="11.20" fill="none" stroke="#8a8a8a" stroke-width="0.5"/>
<line x1="248.20" y1="420.20" x2="248.20" y2="431.40" stroke="#555" stroke-width="0.9"/>
<line x1="248.20" y1="426.00" x2="270.00" y2="426.00" stroke="#222" stroke-width="1.3"/>
<polygon points="274.5,426.0 269.0,423.4 269.0,428.6" fill="#222"/>
<line x1="279.00" y1="351.00" x2="279.00" y2="458.00" stroke="#333" stroke-width="1.3"/>
<polygon points="279,347.7 276.5,353.3 281.5,353.3" fill="#222"/>
<line x1="282.30" y1="460.80" x2="330.00" y2="460.80" stroke="#333" stroke-width="1.3"/>
<polygon points="335,460.8 329.5,458.2 329.5,463.4" fill="#222"/>
<rect x="282.30" y="345.40" width="55.40" height="54.60" fill="white" stroke="#b5b5b5" stroke-width="0.8"/>
<g transform="translate(0,-56.80)" filter="url(#blur2)"><ellipse cx="312.3" cy="422.3" rx="5.3" ry="6.3" fill="none" stroke="#c4c4c4" stroke-width="4.2"/><ellipse cx="312.3" cy="422.3" rx="3.4" ry="4.2" fill="none" stroke="#a9a9a9" stroke-width="0.9"/><g transform="rotate(-11 304.5 432)"><ellipse cx="304.5" cy="432" rx="9.6" ry="3.7" fill="none" stroke="#8f8f8f" stroke-width="2.8"/><ellipse cx="303.5" cy="432.2" rx="7.4" ry="1.9" fill="none" stroke="#3c3c3c" stroke-width="1.1"/></g></g>
<rect x="304.20" y="355.30" width="18.80" height="28.40" fill="none" stroke="#777" stroke-width="0.6"/>
<rect x="291.10" y="369.20" width="13.10" height="14.50" fill="none" stroke="#777" stroke-width="0.6"/>
<line x1="304.20" y1="369.20" x2="323.00" y2="369.20" stroke="#888" stroke-width="0.6"/>
<line x1="304.20" y1="368.20" x2="304.20" y2="383.70" stroke="#222" stroke-width="1.1"/>
<text transform="translate(315.30,350.10)" font-size="5.8" text-anchor="middle" font-weight="normal" fill="#3a3a3a" textLength="11.5" lengthAdjust="spacingAndGlyphs" stroke="#3a3a3a" stroke-width="0.1">MPP</text>
<text transform="translate(315.30,354.40)" font-size="5.8" text-anchor="middle" font-weight="normal" fill="#3a3a3a" stroke="#3a3a3a" stroke-width="0.1">22.5</text>
<text transform="translate(293.70,390.50)" font-size="5.8" text-anchor="middle" font-weight="normal" fill="#3a3a3a" textLength="18.4" lengthAdjust="spacingAndGlyphs" stroke="#3a3a3a" stroke-width="0.1">LT-HSC</text>
<text transform="translate(293.00,394.90)" font-size="5.8" text-anchor="middle" font-weight="normal" fill="#3a3a3a" stroke="#3a3a3a" stroke-width="0.1">24.1</text>
<text transform="translate(316.75,390.50)" font-size="5.8" text-anchor="middle" font-weight="normal" fill="#3a3a3a" textLength="20.3" lengthAdjust="spacingAndGlyphs" stroke="#3a3a3a" stroke-width="0.1">ST-HSC</text>
<text transform="translate(316.75,394.90)" font-size="5.8" text-anchor="middle" font-weight="normal" fill="#3a3a3a" stroke="#3a3a3a" stroke-width="0.1">52.6</text>
<rect x="282.30" y="403.00" width="55.40" height="54.00" fill="white" stroke="#b5b5b5" stroke-width="0.8"/>
<g transform="translate(0,0.00)" filter="url(#blur2)"><ellipse cx="312.3" cy="422.3" rx="5.3" ry="6.3" fill="none" stroke="#c4c4c4" stroke-width="4.2"/><ellipse cx="312.3" cy="422.3" rx="3.4" ry="4.2" fill="none" stroke="#a9a9a9" stroke-width="0.9"/><g transform="rotate(-11 304.5 432)"><ellipse cx="304.5" cy="432" rx="9.6" ry="3.7" fill="none" stroke="#8f8f8f" stroke-width="2.8"/><ellipse cx="303.5" cy="432.2" rx="7.4" ry="1.9" fill="none" stroke="#3c3c3c" stroke-width="1.1"/></g></g>
<rect x="304.20" y="412.70" width="18.80" height="27.80" fill="none" stroke="#777" stroke-width="0.6"/>
<rect x="291.10" y="427.30" width="13.10" height="13.20" fill="none" stroke="#777" stroke-width="0.6"/>
<line x1="304.20" y1="427.30" x2="323.00" y2="427.30" stroke="#888" stroke-width="0.6"/>
<line x1="304.20" y1="426.30" x2="304.20" y2="440.50" stroke="#222" stroke-width="1.1"/>
<text transform="translate(315.30,407.50)" font-size="5.8" text-anchor="middle" font-weight="normal" fill="#3a3a3a" textLength="11.5" lengthAdjust="spacingAndGlyphs" stroke="#3a3a3a" stroke-width="0.1">MPP</text>
<text transform="translate(315.30,411.80)" font-size="5.8" text-anchor="middle" font-weight="normal" fill="#3a3a3a" stroke="#3a3a3a" stroke-width="0.1">22.3</text>
<text transform="translate(293.70,447.30)" font-size="5.8" text-anchor="middle" font-weight="normal" fill="#3a3a3a" textLength="18.4" lengthAdjust="spacingAndGlyphs" stroke="#3a3a3a" stroke-width="0.1">LT-HSC</text>
<text transform="translate(293.00,451.70)" font-size="5.8" text-anchor="middle" font-weight="normal" fill="#3a3a3a" stroke="#3a3a3a" stroke-width="0.1">24.4</text>
<text transform="translate(316.75,447.30)" font-size="5.8" text-anchor="middle" font-weight="normal" fill="#3a3a3a" textLength="20.3" lengthAdjust="spacingAndGlyphs" stroke="#3a3a3a" stroke-width="0.1">ST-HSC</text>
<text transform="translate(316.75,451.70)" font-size="5.8" text-anchor="middle" font-weight="normal" fill="#3a3a3a" stroke="#3a3a3a" stroke-width="0.1">51.8</text>
<text transform="translate(201.80,372.50) rotate(-90)" font-size="7.4" text-anchor="middle" font-weight="normal" fill="#2a2a2a" textLength="23.7" lengthAdjust="spacingAndGlyphs" dominant-baseline="central" stroke="#2a2a2a" stroke-width="0.12">WT + IR</text>
<text transform="translate(201.80,433.20) rotate(-90)" font-size="7.4" text-anchor="middle" font-weight="normal" fill="#2a2a2a" textLength="42.3" lengthAdjust="spacingAndGlyphs" dominant-baseline="central" stroke="#2a2a2a" stroke-width="0.12">MC5R<tspan font-size="4.2" dy="-3.2">−/−</tspan><tspan dy="3.2"> + IR</tspan></text>
<text transform="translate(204.80,400.10) rotate(-90)" font-size="7.0" text-anchor="middle" font-weight="normal" fill="#2a2a2a" textLength="15.8" lengthAdjust="spacingAndGlyphs" dominant-baseline="central" stroke="#2a2a2a" stroke-width="0.12">c-Kit</text>
<text transform="translate(273.20,401.20) rotate(-90)" font-size="7.8" text-anchor="middle" font-weight="normal" fill="#2a2a2a" textLength="14.4" lengthAdjust="spacingAndGlyphs" dominant-baseline="central" stroke="#2a2a2a" stroke-width="0.15">Flk2</text>
<text transform="translate(240.80,471.20)" font-size="8.8" text-anchor="middle" font-weight="normal" fill="#2a2a2a" textLength="16" lengthAdjust="spacingAndGlyphs" stroke="#2a2a2a" stroke-width="0.15">Sca1</text>
<text transform="translate(308.60,470.90)" font-size="8.6" text-anchor="middle" font-weight="normal" fill="#2a2a2a" textLength="15.4" lengthAdjust="spacingAndGlyphs" stroke="#2a2a2a" stroke-width="0.15">CD34</text>
<text transform="translate(353.60,329.80)" font-size="11.8" text-anchor="start" font-weight="bold" fill="#111" stroke="#111" stroke-width="0.15">H</text>
<line x1="393.30" y1="348.20" x2="393.30" y2="437.40" stroke="#222" stroke-width="1.45"/>
<line x1="390.30" y1="436.80" x2="393.30" y2="436.80" stroke="#222" stroke-width="1.1"/>
<text transform="translate(388.10,439.32) scale(0.92,1)" font-size="7.0" text-anchor="end" font-weight="normal" fill="#333" stroke="#333" stroke-width="0.22">0.0</text>
<line x1="390.30" y1="419.60" x2="393.30" y2="419.60" stroke="#222" stroke-width="1.1"/>
<text transform="translate(388.10,422.12) scale(0.92,1)" font-size="7.0" text-anchor="end" font-weight="normal" fill="#333" stroke="#333" stroke-width="0.22">0.5</text>
<line x1="390.30" y1="402.40" x2="393.30" y2="402.40" stroke="#222" stroke-width="1.1"/>
<text transform="translate(388.10,404.92) scale(0.92,1)" font-size="7.0" text-anchor="end" font-weight="normal" fill="#333" stroke="#333" stroke-width="0.22">1.0</text>
<line x1="390.30" y1="385.20" x2="393.30" y2="385.20" stroke="#222" stroke-width="1.1"/>
<text transform="translate(388.10,387.72) scale(0.92,1)" font-size="7.0" text-anchor="end" font-weight="normal" fill="#333" stroke="#333" stroke-width="0.22">1.5</text>
<line x1="390.30" y1="368.00" x2="393.30" y2="368.00" stroke="#222" stroke-width="1.1"/>
<text transform="translate(388.10,370.52) scale(0.92,1)" font-size="7.0" text-anchor="end" font-weight="normal" fill="#333" stroke="#333" stroke-width="0.22">2.0</text>
<line x1="390.30" y1="350.80" x2="393.30" y2="350.80" stroke="#222" stroke-width="1.1"/>
<text transform="translate(388.10,353.32) scale(0.92,1)" font-size="7.0" text-anchor="end" font-weight="normal" fill="#333" stroke="#333" stroke-width="0.22">2.5</text>
<line x1="393.30" y1="436.80" x2="478.40" y2="436.80" stroke="#222" stroke-width="1.3"/>
<line x1="414.50" y1="436.80" x2="414.50" y2="439.30" stroke="#222" stroke-width="1.1"/>
<line x1="456.80" y1="436.80" x2="456.80" y2="439.30" stroke="#222" stroke-width="1.1"/>
<rect x="399.60" y="371.44" width="12.30" height="65.36" fill="#cf1131" stroke="none" stroke-width="0.6"/>
<rect x="417.30" y="393.80" width="12.30" height="43.00" fill="#1b4d8a" stroke="none" stroke-width="0.6"/>
<line x1="405.75" y1="371.44" x2="405.75" y2="368.69" stroke="#333" stroke-width="0.8"/>
<line x1="403.95" y1="368.69" x2="407.55" y2="368.69" stroke="#333" stroke-width="0.8"/>
<line x1="405.75" y1="371.44" x2="405.75" y2="374.19" stroke="#333" stroke-width="0.8"/>
<line x1="423.45" y1="393.80" x2="423.45" y2="386.92" stroke="#333" stroke-width="0.8"/>
<line x1="421.65" y1="386.92" x2="425.25" y2="386.92" stroke="#333" stroke-width="0.8"/>
<line x1="423.45" y1="393.80" x2="423.45" y2="400.68" stroke="#333" stroke-width="0.8"/>
<circle cx="403.45" cy="369.24" r="1.4" fill="none" stroke="#333" stroke-width="0.7"/>
<circle cx="408.05" cy="368.69" r="1.4" fill="none" stroke="#333" stroke-width="0.7"/>
<circle cx="405.25" cy="372.27" r="1.3" fill="none" stroke="#5a0a18" stroke-width="0.6"/>
<circle cx="407.25" cy="373.37" r="1.3" fill="none" stroke="#5a0a18" stroke-width="0.6"/>
<polygon points="421.85,388.16 420.45,390.68 423.25,390.68" fill="none" stroke="#333" stroke-width="0.7"/>
<polygon points="425.05,386.10 423.65,388.62 426.45,388.62" fill="none" stroke="#333" stroke-width="0.7"/>
<polygon points="423.45,395.15 422.15,397.49 424.75,397.49" fill="none" stroke="#0b2648" stroke-width="0.6"/>
<text transform="translate(423.45,384.72)" font-size="7" text-anchor="middle" font-weight="normal" fill="#2a2a2a" stroke="#2a2a2a" stroke-width="0.1">***</text>
<rect x="442.00" y="429.92" width="11.60" height="6.88" fill="#cf1131" stroke="none" stroke-width="0.6"/>
<rect x="460.20" y="433.70" width="11.60" height="3.10" fill="#1b4d8a" stroke="none" stroke-width="0.6"/>
<line x1="447.80" y1="429.92" x2="447.80" y2="428.89" stroke="#333" stroke-width="0.8"/>
<line x1="446.00" y1="428.89" x2="449.60" y2="428.89" stroke="#333" stroke-width="0.8"/>
<line x1="447.80" y1="429.92" x2="447.80" y2="430.95" stroke="#333" stroke-width="0.8"/>
<line x1="466.00" y1="433.70" x2="466.00" y2="432.67" stroke="#333" stroke-width="0.8"/>
<line x1="464.20" y1="432.67" x2="467.80" y2="432.67" stroke="#333" stroke-width="0.8"/>
<line x1="466.00" y1="433.70" x2="466.00" y2="434.74" stroke="#333" stroke-width="0.8"/>
<circle cx="445.50" cy="429.09" r="1.4" fill="none" stroke="#333" stroke-width="0.7"/>
<circle cx="450.10" cy="428.89" r="1.4" fill="none" stroke="#333" stroke-width="0.7"/>
<circle cx="447.30" cy="430.23" r="1.3" fill="none" stroke="#5a0a18" stroke-width="0.6"/>
<circle cx="449.30" cy="430.64" r="1.3" fill="none" stroke="#5a0a18" stroke-width="0.6"/>
<polygon points="464.40,431.57 463.00,434.09 465.80,434.09" fill="none" stroke="#333" stroke-width="0.7"/>
<polygon points="467.60,431.26 466.20,433.78 469.00,433.78" fill="none" stroke="#333" stroke-width="0.7"/>
<polygon points="466.00,432.71 464.70,435.05 467.30,435.05" fill="none" stroke="#0b2648" stroke-width="0.6"/>
<text transform="translate(466.00,430.47)" font-size="7" text-anchor="middle" font-weight="normal" fill="#2a2a2a" stroke="#2a2a2a" stroke-width="0.1">***</text>
<text transform="translate(414.30,447.60)" font-size="7.6" text-anchor="middle" font-weight="normal" fill="#2a2a2a" stroke="#2a2a2a" stroke-width="0.12">MP</text>
<text transform="translate(456.80,448.20)" font-size="7.6" text-anchor="middle" font-weight="normal" fill="#2a2a2a" stroke="#2a2a2a" stroke-width="0.12">LSK</text>
<rect x="421.60" y="354.00" width="4.60" height="4.40" fill="#cf1131" stroke="none" stroke-width="0.6"/>
<text transform="translate(428.80,358.80)" font-size="6.8" text-anchor="start" font-weight="normal" fill="#2a2a2a" textLength="24.2" lengthAdjust="spacingAndGlyphs" stroke="#2a2a2a" stroke-width="0.12">WT + IR</text>
<rect x="421.60" y="361.60" width="4.60" height="4.40" fill="#1b4d8a" stroke="none" stroke-width="0.6"/>
<text transform="translate(428.80,366.40)" font-size="6.8" text-anchor="start" font-weight="normal" fill="#2a2a2a" textLength="38.8" lengthAdjust="spacingAndGlyphs" stroke="#2a2a2a" stroke-width="0.12">MC5R<tspan font-size="3.8" dy="-3.0">−/−</tspan><tspan dy="3.0">&#160;+ IR</tspan></text>
<text transform="translate(370.00,393.50) rotate(-90)" font-size="8.0" text-anchor="middle" font-weight="normal" fill="#262626" textLength="78.2" lengthAdjust="spacingAndGlyphs" dominant-baseline="central" stroke="#262626" stroke-width="0.42">Cell number in BM (×10^5)</text>
<text transform="translate(7.70,494.70)" font-size="11.8" text-anchor="start" font-weight="bold" fill="#111" stroke="#111" stroke-width="0.15">I</text>
<line x1="41.30" y1="502.00" x2="41.30" y2="590.00" stroke="#222" stroke-width="1.45"/>
<line x1="38.30" y1="589.40" x2="41.30" y2="589.40" stroke="#222" stroke-width="1.1"/>
<text transform="translate(35.30,591.92) scale(0.92,1)" font-size="7.0" text-anchor="end" font-weight="normal" fill="#333" stroke="#333" stroke-width="0.22">0.0</text>
<line x1="38.30" y1="561.00" x2="41.30" y2="561.00" stroke="#222" stroke-width="1.1"/>
<text transform="translate(35.30,563.52) scale(0.92,1)" font-size="7.0" text-anchor="end" font-weight="normal" fill="#333" stroke="#333" stroke-width="0.22">0.5</text>
<line x1="38.30" y1="532.60" x2="41.30" y2="532.60" stroke="#222" stroke-width="1.1"/>
<text transform="translate(35.30,535.12) scale(0.92,1)" font-size="7.0" text-anchor="end" font-weight="normal" fill="#333" stroke="#333" stroke-width="0.22">1.0</text>
<line x1="38.30" y1="504.20" x2="41.30" y2="504.20" stroke="#222" stroke-width="1.1"/>
<text transform="translate(35.30,506.72) scale(0.92,1)" font-size="7.0" text-anchor="end" font-weight="normal" fill="#333" stroke="#333" stroke-width="0.22">1.5</text>
<line x1="41.30" y1="589.40" x2="152.30" y2="589.40" stroke="#222" stroke-width="1.3"/>
<line x1="60.30" y1="589.40" x2="60.30" y2="591.90" stroke="#222" stroke-width="1.1"/>
<text transform="translate(60.30,601.50)" font-size="6.6" text-anchor="middle" font-weight="normal" fill="#2a2a2a" textLength="21" lengthAdjust="spacingAndGlyphs" stroke="#2a2a2a" stroke-width="0.25">LT-HSC</text>
<line x1="98.30" y1="589.40" x2="98.30" y2="591.90" stroke="#222" stroke-width="1.1"/>
<text transform="translate(98.30,601.50)" font-size="6.6" text-anchor="middle" font-weight="normal" fill="#2a2a2a" textLength="23.5" lengthAdjust="spacingAndGlyphs" stroke="#2a2a2a" stroke-width="0.25">ST-HSC</text>
<line x1="135.70" y1="589.40" x2="135.70" y2="591.90" stroke="#222" stroke-width="1.1"/>
<text transform="translate(135.70,601.50)" font-size="6.6" text-anchor="middle" font-weight="normal" fill="#2a2a2a" textLength="14.4" lengthAdjust="spacingAndGlyphs" stroke="#2a2a2a" stroke-width="0.25">MPP</text>
<rect x="46.80" y="561.00" width="10.90" height="28.40" fill="#cf1131" stroke="none" stroke-width="0.6"/>
<rect x="63.20" y="573.50" width="10.90" height="15.90" fill="#1b4d8a" stroke="none" stroke-width="0.6"/>
<line x1="52.25" y1="561.00" x2="52.25" y2="557.59" stroke="#333" stroke-width="0.8"/>
<line x1="50.45" y1="557.59" x2="54.05" y2="557.59" stroke="#333" stroke-width="0.8"/>
<line x1="52.25" y1="561.00" x2="52.25" y2="564.41" stroke="#333" stroke-width="0.8"/>
<line x1="68.65" y1="573.50" x2="68.65" y2="571.22" stroke="#333" stroke-width="0.8"/>
<line x1="66.85" y1="571.22" x2="70.45" y2="571.22" stroke="#333" stroke-width="0.8"/>
<line x1="68.65" y1="573.50" x2="68.65" y2="575.77" stroke="#333" stroke-width="0.8"/>
<circle cx="49.95" cy="558.27" r="1.4" fill="none" stroke="#333" stroke-width="0.7"/>
<circle cx="54.55" cy="557.59" r="1.4" fill="none" stroke="#333" stroke-width="0.7"/>
<circle cx="51.75" cy="562.02" r="1.3" fill="none" stroke="#5a0a18" stroke-width="0.6"/>
<circle cx="53.75" cy="563.39" r="1.3" fill="none" stroke="#5a0a18" stroke-width="0.6"/>
<polygon points="67.05,570.62 65.65,573.14 68.45,573.14" fill="none" stroke="#333" stroke-width="0.7"/>
<polygon points="70.25,569.94 68.85,572.46 71.65,572.46" fill="none" stroke="#333" stroke-width="0.7"/>
<polygon points="68.65,573.00 67.35,575.34 69.95,575.34" fill="none" stroke="#0b2648" stroke-width="0.6"/>
<text transform="translate(68.65,569.02)" font-size="7" text-anchor="middle" font-weight="normal" fill="#2a2a2a" stroke="#2a2a2a" stroke-width="0.1">***</text>
<rect x="85.20" y="529.19" width="10.20" height="60.21" fill="#cf1131" stroke="none" stroke-width="0.6"/>
<rect x="101.80" y="556.46" width="10.20" height="32.94" fill="#1b4d8a" stroke="none" stroke-width="0.6"/>
<line x1="90.30" y1="529.19" x2="90.30" y2="515.56" stroke="#333" stroke-width="0.8"/>
<line x1="88.50" y1="515.56" x2="92.10" y2="515.56" stroke="#333" stroke-width="0.8"/>
<line x1="90.30" y1="529.19" x2="90.30" y2="542.82" stroke="#333" stroke-width="0.8"/>
<line x1="106.90" y1="556.46" x2="106.90" y2="545.10" stroke="#333" stroke-width="0.8"/>
<line x1="105.10" y1="545.10" x2="108.70" y2="545.10" stroke="#333" stroke-width="0.8"/>
<line x1="106.90" y1="556.46" x2="106.90" y2="567.82" stroke="#333" stroke-width="0.8"/>
<circle cx="88.00" cy="518.29" r="1.4" fill="none" stroke="#333" stroke-width="0.7"/>
<circle cx="92.60" cy="515.56" r="1.4" fill="none" stroke="#333" stroke-width="0.7"/>
<circle cx="89.80" cy="533.28" r="1.3" fill="none" stroke="#5a0a18" stroke-width="0.6"/>
<circle cx="91.80" cy="538.73" r="1.3" fill="none" stroke="#5a0a18" stroke-width="0.6"/>
<polygon points="105.30,548.13 103.90,550.65 106.70,550.65" fill="none" stroke="#333" stroke-width="0.7"/>
<polygon points="108.50,544.72 107.10,547.24 109.90,547.24" fill="none" stroke="#333" stroke-width="0.7"/>
<polygon points="106.90,559.60 105.60,561.94 108.20,561.94" fill="none" stroke="#0b2648" stroke-width="0.6"/>
<text transform="translate(106.90,542.90)" font-size="7" text-anchor="middle" font-weight="normal" fill="#2a2a2a" stroke="#2a2a2a" stroke-width="0.1">**</text>
<rect x="123.00" y="564.41" width="10.00" height="24.99" fill="#cf1131" stroke="none" stroke-width="0.6"/>
<rect x="139.10" y="576.34" width="10.00" height="13.06" fill="#1b4d8a" stroke="none" stroke-width="0.6"/>
<line x1="128.00" y1="564.41" x2="128.00" y2="561.00" stroke="#333" stroke-width="0.8"/>
<line x1="126.20" y1="561.00" x2="129.80" y2="561.00" stroke="#333" stroke-width="0.8"/>
<line x1="128.00" y1="564.41" x2="128.00" y2="567.82" stroke="#333" stroke-width="0.8"/>
<line x1="144.10" y1="576.34" x2="144.10" y2="573.50" stroke="#333" stroke-width="0.8"/>
<line x1="142.30" y1="573.50" x2="145.90" y2="573.50" stroke="#333" stroke-width="0.8"/>
<line x1="144.10" y1="576.34" x2="144.10" y2="579.18" stroke="#333" stroke-width="0.8"/>
<circle cx="125.70" cy="561.68" r="1.4" fill="none" stroke="#333" stroke-width="0.7"/>
<circle cx="130.30" cy="561.00" r="1.4" fill="none" stroke="#333" stroke-width="0.7"/>
<circle cx="127.50" cy="565.43" r="1.3" fill="none" stroke="#5a0a18" stroke-width="0.6"/>
<circle cx="129.50" cy="566.79" r="1.3" fill="none" stroke="#5a0a18" stroke-width="0.6"/>
<polygon points="142.50,573.12 141.10,575.64 143.90,575.64" fill="none" stroke="#333" stroke-width="0.7"/>
<polygon points="145.70,572.27 144.30,574.79 147.10,574.79" fill="none" stroke="#333" stroke-width="0.7"/>
<polygon points="144.10,576.07 142.80,578.41 145.40,578.41" fill="none" stroke="#0b2648" stroke-width="0.6"/>
<text transform="translate(144.10,571.30)" font-size="7" text-anchor="middle" font-weight="normal" fill="#2a2a2a" stroke="#2a2a2a" stroke-width="0.1">**</text>
<rect x="105.60" y="503.50" width="4.60" height="4.40" fill="#cf1131" stroke="none" stroke-width="0.6"/>
<text transform="translate(112.80,508.30)" font-size="6.8" text-anchor="start" font-weight="normal" fill="#2a2a2a" textLength="24.2" lengthAdjust="spacingAndGlyphs" stroke="#2a2a2a" stroke-width="0.12">WT + IR</text>
<rect x="105.60" y="511.80" width="4.60" height="4.40" fill="#1b4d8a" stroke="none" stroke-width="0.6"/>
<text transform="translate(112.80,516.60)" font-size="6.8" text-anchor="start" font-weight="normal" fill="#2a2a2a" textLength="38.8" lengthAdjust="spacingAndGlyphs" stroke="#2a2a2a" stroke-width="0.12">MC5R<tspan font-size="3.8" dy="-3.0">−/−</tspan><tspan dy="3.0">&#160;+ IR</tspan></text>
<text transform="translate(19.30,545.50) rotate(-90)" font-size="8.0" text-anchor="middle" font-weight="normal" fill="#262626" textLength="78.7" lengthAdjust="spacingAndGlyphs" dominant-baseline="central" stroke="#262626" stroke-width="0.42">Cell number in BM (×10^4)</text>
<text transform="translate(171.20,494.70)" font-size="11.8" text-anchor="start" font-weight="bold" fill="#111" stroke="#111" stroke-width="0.15">J</text>
<line x1="207.00" y1="502.00" x2="207.00" y2="590.00" stroke="#222" stroke-width="1.45"/>
<line x1="204.00" y1="589.40" x2="207.00" y2="589.40" stroke="#222" stroke-width="1.1"/>
<text transform="translate(201.00,591.92) scale(0.92,1)" font-size="7.0" text-anchor="end" font-weight="normal" fill="#333" stroke="#333" stroke-width="0.22">0.0</text>
<line x1="204.00" y1="561.00" x2="207.00" y2="561.00" stroke="#222" stroke-width="1.1"/>
<text transform="translate(201.00,563.52) scale(0.92,1)" font-size="7.0" text-anchor="end" font-weight="normal" fill="#333" stroke="#333" stroke-width="0.22">0.5</text>
<line x1="204.00" y1="532.60" x2="207.00" y2="532.60" stroke="#222" stroke-width="1.1"/>
<text transform="translate(201.00,535.12) scale(0.92,1)" font-size="7.0" text-anchor="end" font-weight="normal" fill="#333" stroke="#333" stroke-width="0.22">1.0</text>
<line x1="204.00" y1="504.20" x2="207.00" y2="504.20" stroke="#222" stroke-width="1.1"/>
<text transform="translate(201.00,506.72) scale(0.92,1)" font-size="7.0" text-anchor="end" font-weight="normal" fill="#333" stroke="#333" stroke-width="0.22">1.5</text>
<line x1="207.00" y1="589.40" x2="345.00" y2="589.40" stroke="#222" stroke-width="1.3"/>
<line x1="223.90" y1="589.40" x2="223.90" y2="591.90" stroke="#222" stroke-width="1.1"/>
<text transform="translate(223.90,601.50)" font-size="6.6" text-anchor="middle" font-weight="normal" fill="#2a2a2a" textLength="14.8" lengthAdjust="spacingAndGlyphs" stroke="#2a2a2a" stroke-width="0.25">MEP</text>
<line x1="257.50" y1="589.40" x2="257.50" y2="591.90" stroke="#222" stroke-width="1.1"/>
<text transform="translate(257.50,601.50)" font-size="6.6" text-anchor="middle" font-weight="normal" fill="#2a2a2a" textLength="15.4" lengthAdjust="spacingAndGlyphs" stroke="#2a2a2a" stroke-width="0.25">CMP</text>
<line x1="291.80" y1="589.40" x2="291.80" y2="591.90" stroke="#222" stroke-width="1.1"/>
<text transform="translate(291.80,601.50)" font-size="6.6" text-anchor="middle" font-weight="normal" fill="#2a2a2a" textLength="15.9" lengthAdjust="spacingAndGlyphs" stroke="#2a2a2a" stroke-width="0.25">GMP</text>
<line x1="325.00" y1="589.40" x2="325.00" y2="591.90" stroke="#222" stroke-width="1.1"/>
<text transform="translate(325.00,601.50)" font-size="6.6" text-anchor="middle" font-weight="normal" fill="#2a2a2a" textLength="12.9" lengthAdjust="spacingAndGlyphs" stroke="#2a2a2a" stroke-width="0.25">CLP</text>
<rect x="211.50" y="535.44" width="10.50" height="53.96" fill="#cf1131" stroke="none" stroke-width="0.6"/>
<rect x="226.40" y="553.62" width="10.50" height="35.78" fill="#1b4d8a" stroke="none" stroke-width="0.6"/>
<line x1="216.75" y1="535.44" x2="216.75" y2="531.46" stroke="#333" stroke-width="0.8"/>
<line x1="214.95" y1="531.46" x2="218.55" y2="531.46" stroke="#333" stroke-width="0.8"/>
<line x1="216.75" y1="535.44" x2="216.75" y2="539.42" stroke="#333" stroke-width="0.8"/>
<line x1="231.65" y1="553.62" x2="231.65" y2="550.78" stroke="#333" stroke-width="0.8"/>
<line x1="229.85" y1="550.78" x2="233.45" y2="550.78" stroke="#333" stroke-width="0.8"/>
<line x1="231.65" y1="553.62" x2="231.65" y2="556.46" stroke="#333" stroke-width="0.8"/>
<circle cx="214.45" cy="532.26" r="1.4" fill="none" stroke="#333" stroke-width="0.7"/>
<circle cx="219.05" cy="531.46" r="1.4" fill="none" stroke="#333" stroke-width="0.7"/>
<circle cx="216.25" cy="536.63" r="1.3" fill="none" stroke="#5a0a18" stroke-width="0.6"/>
<circle cx="218.25" cy="538.22" r="1.3" fill="none" stroke="#5a0a18" stroke-width="0.6"/>
<polygon points="230.05,550.40 228.65,552.92 231.45,552.92" fill="none" stroke="#333" stroke-width="0.7"/>
<polygon points="233.25,549.55 231.85,552.07 234.65,552.07" fill="none" stroke="#333" stroke-width="0.7"/>
<polygon points="231.65,553.35 230.35,555.69 232.95,555.69" fill="none" stroke="#0b2648" stroke-width="0.6"/>
<text transform="translate(231.65,548.58)" font-size="7" text-anchor="middle" font-weight="normal" fill="#2a2a2a" stroke="#2a2a2a" stroke-width="0.1">***</text>
<rect x="245.50" y="567.25" width="10.30" height="22.15" fill="#cf1131" stroke="none" stroke-width="0.6"/>
<rect x="260.30" y="575.20" width="10.30" height="14.20" fill="#1b4d8a" stroke="none" stroke-width="0.6"/>
<line x1="250.65" y1="567.25" x2="250.65" y2="563.84" stroke="#333" stroke-width="0.8"/>
<line x1="248.85" y1="563.84" x2="252.45" y2="563.84" stroke="#333" stroke-width="0.8"/>
<line x1="250.65" y1="567.25" x2="250.65" y2="570.66" stroke="#333" stroke-width="0.8"/>
<line x1="265.45" y1="575.20" x2="265.45" y2="572.93" stroke="#333" stroke-width="0.8"/>
<line x1="263.65" y1="572.93" x2="267.25" y2="572.93" stroke="#333" stroke-width="0.8"/>
<line x1="265.45" y1="575.20" x2="265.45" y2="577.47" stroke="#333" stroke-width="0.8"/>
<circle cx="248.35" cy="564.52" r="1.4" fill="none" stroke="#333" stroke-width="0.7"/>
<circle cx="252.95" cy="563.84" r="1.4" fill="none" stroke="#333" stroke-width="0.7"/>
<circle cx="250.15" cy="568.27" r="1.3" fill="none" stroke="#5a0a18" stroke-width="0.6"/>
<circle cx="252.15" cy="569.63" r="1.3" fill="none" stroke="#5a0a18" stroke-width="0.6"/>
<polygon points="263.85,572.32 262.45,574.84 265.25,574.84" fill="none" stroke="#333" stroke-width="0.7"/>
<polygon points="267.05,571.64 265.65,574.16 268.45,574.16" fill="none" stroke="#333" stroke-width="0.7"/>
<polygon points="265.45,574.70 264.15,577.04 266.75,577.04" fill="none" stroke="#0b2648" stroke-width="0.6"/>
<text transform="translate(265.45,570.73)" font-size="7" text-anchor="middle" font-weight="normal" fill="#2a2a2a" stroke="#2a2a2a" stroke-width="0.1">**</text>
<rect x="279.40" y="562.70" width="10.40" height="26.70" fill="#cf1131" stroke="none" stroke-width="0.6"/>
<rect x="294.30" y="571.22" width="10.40" height="18.18" fill="#1b4d8a" stroke="none" stroke-width="0.6"/>
<line x1="284.60" y1="562.70" x2="284.60" y2="560.43" stroke="#333" stroke-width="0.8"/>
<line x1="282.80" y1="560.43" x2="286.40" y2="560.43" stroke="#333" stroke-width="0.8"/>
<line x1="284.60" y1="562.70" x2="284.60" y2="564.98" stroke="#333" stroke-width="0.8"/>
<line x1="299.50" y1="571.22" x2="299.50" y2="568.95" stroke="#333" stroke-width="0.8"/>
<line x1="297.70" y1="568.95" x2="301.30" y2="568.95" stroke="#333" stroke-width="0.8"/>
<line x1="299.50" y1="571.22" x2="299.50" y2="573.50" stroke="#333" stroke-width="0.8"/>
<circle cx="282.30" cy="560.89" r="1.4" fill="none" stroke="#333" stroke-width="0.7"/>
<circle cx="286.90" cy="560.43" r="1.4" fill="none" stroke="#333" stroke-width="0.7"/>
<circle cx="284.10" cy="563.39" r="1.3" fill="none" stroke="#5a0a18" stroke-width="0.6"/>
<circle cx="286.10" cy="564.29" r="1.3" fill="none" stroke="#5a0a18" stroke-width="0.6"/>
<polygon points="297.90,568.35 296.50,570.87 299.30,570.87" fill="none" stroke="#333" stroke-width="0.7"/>
<polygon points="301.10,567.67 299.70,570.19 302.50,570.19" fill="none" stroke="#333" stroke-width="0.7"/>
<polygon points="299.50,570.73 298.20,573.07 300.80,573.07" fill="none" stroke="#0b2648" stroke-width="0.6"/>
<text transform="translate(299.50,566.75)" font-size="7" text-anchor="middle" font-weight="normal" fill="#2a2a2a" stroke="#2a2a2a" stroke-width="0.1">**</text>
<rect x="314.00" y="588.26" width="10.40" height="1.14" fill="#cf1131" stroke="none" stroke-width="0.6"/>
<rect x="328.50" y="588.26" width="10.40" height="1.14" fill="#1b4d8a" stroke="none" stroke-width="0.6"/>
<line x1="319.20" y1="588.26" x2="319.20" y2="587.70" stroke="#333" stroke-width="0.8"/>
<line x1="317.40" y1="587.70" x2="321.00" y2="587.70" stroke="#333" stroke-width="0.8"/>
<line x1="319.20" y1="588.26" x2="319.20" y2="588.83" stroke="#333" stroke-width="0.8"/>
<line x1="333.70" y1="588.26" x2="333.70" y2="587.70" stroke="#333" stroke-width="0.8"/>
<line x1="331.90" y1="587.70" x2="335.50" y2="587.70" stroke="#333" stroke-width="0.8"/>
<line x1="333.70" y1="588.26" x2="333.70" y2="588.83" stroke="#333" stroke-width="0.8"/>
<circle cx="316.90" cy="587.81" r="1.4" fill="none" stroke="#333" stroke-width="0.7"/>
<circle cx="321.50" cy="587.70" r="1.4" fill="none" stroke="#333" stroke-width="0.7"/>
<circle cx="318.70" cy="588.43" r="1.3" fill="none" stroke="#5a0a18" stroke-width="0.6"/>
<circle cx="320.70" cy="588.66" r="1.3" fill="none" stroke="#5a0a18" stroke-width="0.6"/>
<polygon points="332.10,586.41 330.70,588.93 333.50,588.93" fill="none" stroke="#333" stroke-width="0.7"/>
<polygon points="335.30,586.24 333.90,588.76 336.70,588.76" fill="none" stroke="#333" stroke-width="0.7"/>
<polygon points="333.70,587.09 332.40,589.43 335.00,589.43" fill="none" stroke="#0b2648" stroke-width="0.6"/>
<text transform="translate(333.70,585.50)" font-size="7" text-anchor="middle" font-weight="normal" fill="#2a2a2a" stroke="#2a2a2a" stroke-width="0.1">*</text>
<rect x="287.80" y="503.50" width="4.60" height="4.40" fill="#cf1131" stroke="none" stroke-width="0.6"/>
<text transform="translate(295.00,508.30)" font-size="6.8" text-anchor="start" font-weight="normal" fill="#2a2a2a" textLength="24.2" lengthAdjust="spacingAndGlyphs" stroke="#2a2a2a" stroke-width="0.12">WT + IR</text>
<rect x="287.80" y="511.80" width="4.60" height="4.40" fill="#1b4d8a" stroke="none" stroke-width="0.6"/>
<text transform="translate(295.00,516.60)" font-size="6.8" text-anchor="start" font-weight="normal" fill="#2a2a2a" textLength="38.8" lengthAdjust="spacingAndGlyphs" stroke="#2a2a2a" stroke-width="0.12">MC5R<tspan font-size="3.8" dy="-3.0">−/−</tspan><tspan dy="3.0">&#160;+ IR</tspan></text>
<text transform="translate(184.30,545.50) rotate(-90)" font-size="8.0" text-anchor="middle" font-weight="normal" fill="#262626" textLength="78.7" lengthAdjust="spacingAndGlyphs" dominant-baseline="central" stroke="#262626" stroke-width="0.42">Cell number in BM (×10^5)</text>
<text transform="translate(359.50,494.70)" font-size="11.8" text-anchor="start" font-weight="bold" fill="#111" stroke="#111" stroke-width="0.15">K</text>
<line x1="398.20" y1="502.00" x2="398.20" y2="590.00" stroke="#222" stroke-width="1.45"/>
<line x1="395.20" y1="589.40" x2="398.20" y2="589.40" stroke="#222" stroke-width="1.1"/>
<text transform="translate(392.20,591.92) scale(0.92,1)" font-size="7.0" text-anchor="end" font-weight="normal" fill="#333" stroke="#333" stroke-width="0.22">0</text>
<line x1="395.20" y1="572.44" x2="398.20" y2="572.44" stroke="#222" stroke-width="1.1"/>
<text transform="translate(392.20,574.96) scale(0.92,1)" font-size="7.0" text-anchor="end" font-weight="normal" fill="#333" stroke="#333" stroke-width="0.22">20</text>
<line x1="395.20" y1="555.48" x2="398.20" y2="555.48" stroke="#222" stroke-width="1.1"/>
<text transform="translate(392.20,558.00) scale(0.92,1)" font-size="7.0" text-anchor="end" font-weight="normal" fill="#333" stroke="#333" stroke-width="0.22">40</text>
<line x1="395.20" y1="538.52" x2="398.20" y2="538.52" stroke="#222" stroke-width="1.1"/>
<text transform="translate(392.20,541.04) scale(0.92,1)" font-size="7.0" text-anchor="end" font-weight="normal" fill="#333" stroke="#333" stroke-width="0.22">60</text>
<line x1="395.20" y1="521.56" x2="398.20" y2="521.56" stroke="#222" stroke-width="1.1"/>
<text transform="translate(392.20,524.08) scale(0.92,1)" font-size="7.0" text-anchor="end" font-weight="normal" fill="#333" stroke="#333" stroke-width="0.22">80</text>
<line x1="395.20" y1="504.60" x2="398.20" y2="504.60" stroke="#222" stroke-width="1.1"/>
<text transform="translate(392.20,507.12) scale(0.92,1)" font-size="7.0" text-anchor="end" font-weight="normal" fill="#333" stroke="#333" stroke-width="0.22">100</text>
<line x1="398.20" y1="589.40" x2="512.40" y2="589.40" stroke="#222" stroke-width="1.3"/>
<line x1="417.80" y1="589.40" x2="417.80" y2="591.90" stroke="#222" stroke-width="1.1"/>
<text transform="translate(417.80,601.40)" font-size="6.6" text-anchor="middle" font-weight="normal" fill="#2a2a2a" textLength="19.2" lengthAdjust="spacingAndGlyphs" stroke="#2a2a2a" stroke-width="0.25">T cells</text>
<line x1="455.50" y1="589.40" x2="455.50" y2="591.90" stroke="#222" stroke-width="1.1"/>
<text transform="translate(455.50,601.40)" font-size="6.6" text-anchor="middle" font-weight="normal" fill="#2a2a2a" textLength="18.4" lengthAdjust="spacingAndGlyphs" stroke="#2a2a2a" stroke-width="0.25">B cells</text>
<line x1="493.70" y1="589.40" x2="493.70" y2="591.90" stroke="#222" stroke-width="1.1"/>
<text transform="translate(493.70,601.40)" font-size="6.6" text-anchor="middle" font-weight="normal" fill="#2a2a2a" textLength="35.8" lengthAdjust="spacingAndGlyphs" stroke="#2a2a2a" stroke-width="0.25">Myeloid cells</text>
<rect x="404.00" y="587.70" width="11.00" height="1.70" fill="#cf1131" stroke="none" stroke-width="0.6"/>
<rect x="420.00" y="587.28" width="11.00" height="2.12" fill="#1b4d8a" stroke="none" stroke-width="0.6"/>
<line x1="409.50" y1="587.70" x2="409.50" y2="586.86" stroke="#333" stroke-width="0.8"/>
<line x1="407.70" y1="586.86" x2="411.30" y2="586.86" stroke="#333" stroke-width="0.8"/>
<line x1="409.50" y1="587.70" x2="409.50" y2="588.55" stroke="#333" stroke-width="0.8"/>
<line x1="425.50" y1="587.28" x2="425.50" y2="586.01" stroke="#333" stroke-width="0.8"/>
<line x1="423.70" y1="586.01" x2="427.30" y2="586.01" stroke="#333" stroke-width="0.8"/>
<line x1="425.50" y1="587.28" x2="425.50" y2="588.55" stroke="#333" stroke-width="0.8"/>
<circle cx="407.20" cy="587.03" r="1.4" fill="none" stroke="#333" stroke-width="0.7"/>
<circle cx="411.80" cy="586.86" r="1.4" fill="none" stroke="#333" stroke-width="0.7"/>
<circle cx="409.00" cy="587.96" r="1.3" fill="none" stroke="#5a0a18" stroke-width="0.6"/>
<circle cx="411.00" cy="588.30" r="1.3" fill="none" stroke="#5a0a18" stroke-width="0.6"/>
<polygon points="423.90,585.00 422.50,587.52 425.30,587.52" fill="none" stroke="#333" stroke-width="0.7"/>
<polygon points="427.10,584.62 425.70,587.14 428.50,587.14" fill="none" stroke="#333" stroke-width="0.7"/>
<polygon points="425.50,586.38 424.20,588.72 426.80,588.72" fill="none" stroke="#0b2648" stroke-width="0.6"/>
<text transform="translate(425.50,583.81)" font-size="7" text-anchor="middle" font-weight="normal" fill="#2a2a2a" stroke="#2a2a2a" stroke-width="0.1">*</text>
<rect x="442.50" y="566.25" width="11.00" height="23.15" fill="#cf1131" stroke="none" stroke-width="0.6"/>
<rect x="458.70" y="558.02" width="11.00" height="31.38" fill="#1b4d8a" stroke="none" stroke-width="0.6"/>
<line x1="448.00" y1="566.25" x2="448.00" y2="563.71" stroke="#333" stroke-width="0.8"/>
<line x1="446.20" y1="563.71" x2="449.80" y2="563.71" stroke="#333" stroke-width="0.8"/>
<line x1="448.00" y1="566.25" x2="448.00" y2="568.79" stroke="#333" stroke-width="0.8"/>
<line x1="464.20" y1="558.02" x2="464.20" y2="554.63" stroke="#333" stroke-width="0.8"/>
<line x1="462.40" y1="554.63" x2="466.00" y2="554.63" stroke="#333" stroke-width="0.8"/>
<line x1="464.20" y1="558.02" x2="464.20" y2="561.42" stroke="#333" stroke-width="0.8"/>
<circle cx="445.70" cy="564.21" r="1.4" fill="none" stroke="#333" stroke-width="0.7"/>
<circle cx="450.30" cy="563.71" r="1.4" fill="none" stroke="#333" stroke-width="0.7"/>
<circle cx="447.50" cy="567.01" r="1.3" fill="none" stroke="#5a0a18" stroke-width="0.6"/>
<circle cx="449.50" cy="568.03" r="1.3" fill="none" stroke="#5a0a18" stroke-width="0.6"/>
<polygon points="462.60,554.48 461.20,557.00 464.00,557.00" fill="none" stroke="#333" stroke-width="0.7"/>
<polygon points="465.80,553.46 464.40,555.98 467.20,555.98" fill="none" stroke="#333" stroke-width="0.7"/>
<polygon points="464.20,557.98 462.90,560.32 465.50,560.32" fill="none" stroke="#0b2648" stroke-width="0.6"/>
<text transform="translate(464.20,552.43)" font-size="7" text-anchor="middle" font-weight="normal" fill="#2a2a2a" stroke="#2a2a2a" stroke-width="0.1">*</text>
<rect x="479.50" y="528.94" width="11.10" height="60.46" fill="#cf1131" stroke="none" stroke-width="0.6"/>
<rect x="495.80" y="542.76" width="11.10" height="46.64" fill="#1b4d8a" stroke="none" stroke-width="0.6"/>
<line x1="485.05" y1="528.94" x2="485.05" y2="524.70" stroke="#333" stroke-width="0.8"/>
<line x1="483.25" y1="524.70" x2="486.85" y2="524.70" stroke="#333" stroke-width="0.8"/>
<line x1="485.05" y1="528.94" x2="485.05" y2="533.18" stroke="#333" stroke-width="0.8"/>
<line x1="501.35" y1="542.76" x2="501.35" y2="540.22" stroke="#333" stroke-width="0.8"/>
<line x1="499.55" y1="540.22" x2="503.15" y2="540.22" stroke="#333" stroke-width="0.8"/>
<line x1="501.35" y1="542.76" x2="501.35" y2="545.30" stroke="#333" stroke-width="0.8"/>
<circle cx="482.75" cy="525.55" r="1.4" fill="none" stroke="#333" stroke-width="0.7"/>
<circle cx="487.35" cy="524.70" r="1.4" fill="none" stroke="#333" stroke-width="0.7"/>
<circle cx="484.55" cy="530.21" r="1.3" fill="none" stroke="#5a0a18" stroke-width="0.6"/>
<circle cx="486.55" cy="531.91" r="1.3" fill="none" stroke="#5a0a18" stroke-width="0.6"/>
<polygon points="499.75,539.72 498.35,542.24 501.15,542.24" fill="none" stroke="#333" stroke-width="0.7"/>
<polygon points="502.95,538.96 501.55,541.48 504.35,541.48" fill="none" stroke="#333" stroke-width="0.7"/>
<polygon points="501.35,542.37 500.05,544.71 502.65,544.71" fill="none" stroke="#0b2648" stroke-width="0.6"/>
<text transform="translate(501.35,538.02)" font-size="7" text-anchor="middle" font-weight="normal" fill="#2a2a2a" stroke="#2a2a2a" stroke-width="0.1">**</text>
<rect x="405.90" y="503.50" width="4.60" height="4.40" fill="#cf1131" stroke="none" stroke-width="0.6"/>
<text transform="translate(413.10,508.30)" font-size="6.8" text-anchor="start" font-weight="normal" fill="#2a2a2a" textLength="24.2" lengthAdjust="spacingAndGlyphs" stroke="#2a2a2a" stroke-width="0.12">WT + IR</text>
<rect x="405.90" y="511.80" width="4.60" height="4.40" fill="#1b4d8a" stroke="none" stroke-width="0.6"/>
<text transform="translate(413.10,516.60)" font-size="6.8" text-anchor="start" font-weight="normal" fill="#2a2a2a" textLength="38.8" lengthAdjust="spacingAndGlyphs" stroke="#2a2a2a" stroke-width="0.12">MC5R<tspan font-size="3.8" dy="-3.0">−/−</tspan><tspan dy="3.0">&#160;+ IR</tspan></text>
<text transform="translate(376.20,546.00) rotate(-90)" font-size="8.0" text-anchor="middle" font-weight="normal" fill="#262626" textLength="40" lengthAdjust="spacingAndGlyphs" dominant-baseline="central" stroke="#262626" stroke-width="0.42">Frequency (%)</text>
<rect x="0.5" y="0.5" width="519" height="609" fill="none" stroke="#5c5c5c" stroke-width="1"/>
</svg></div></body></html>
